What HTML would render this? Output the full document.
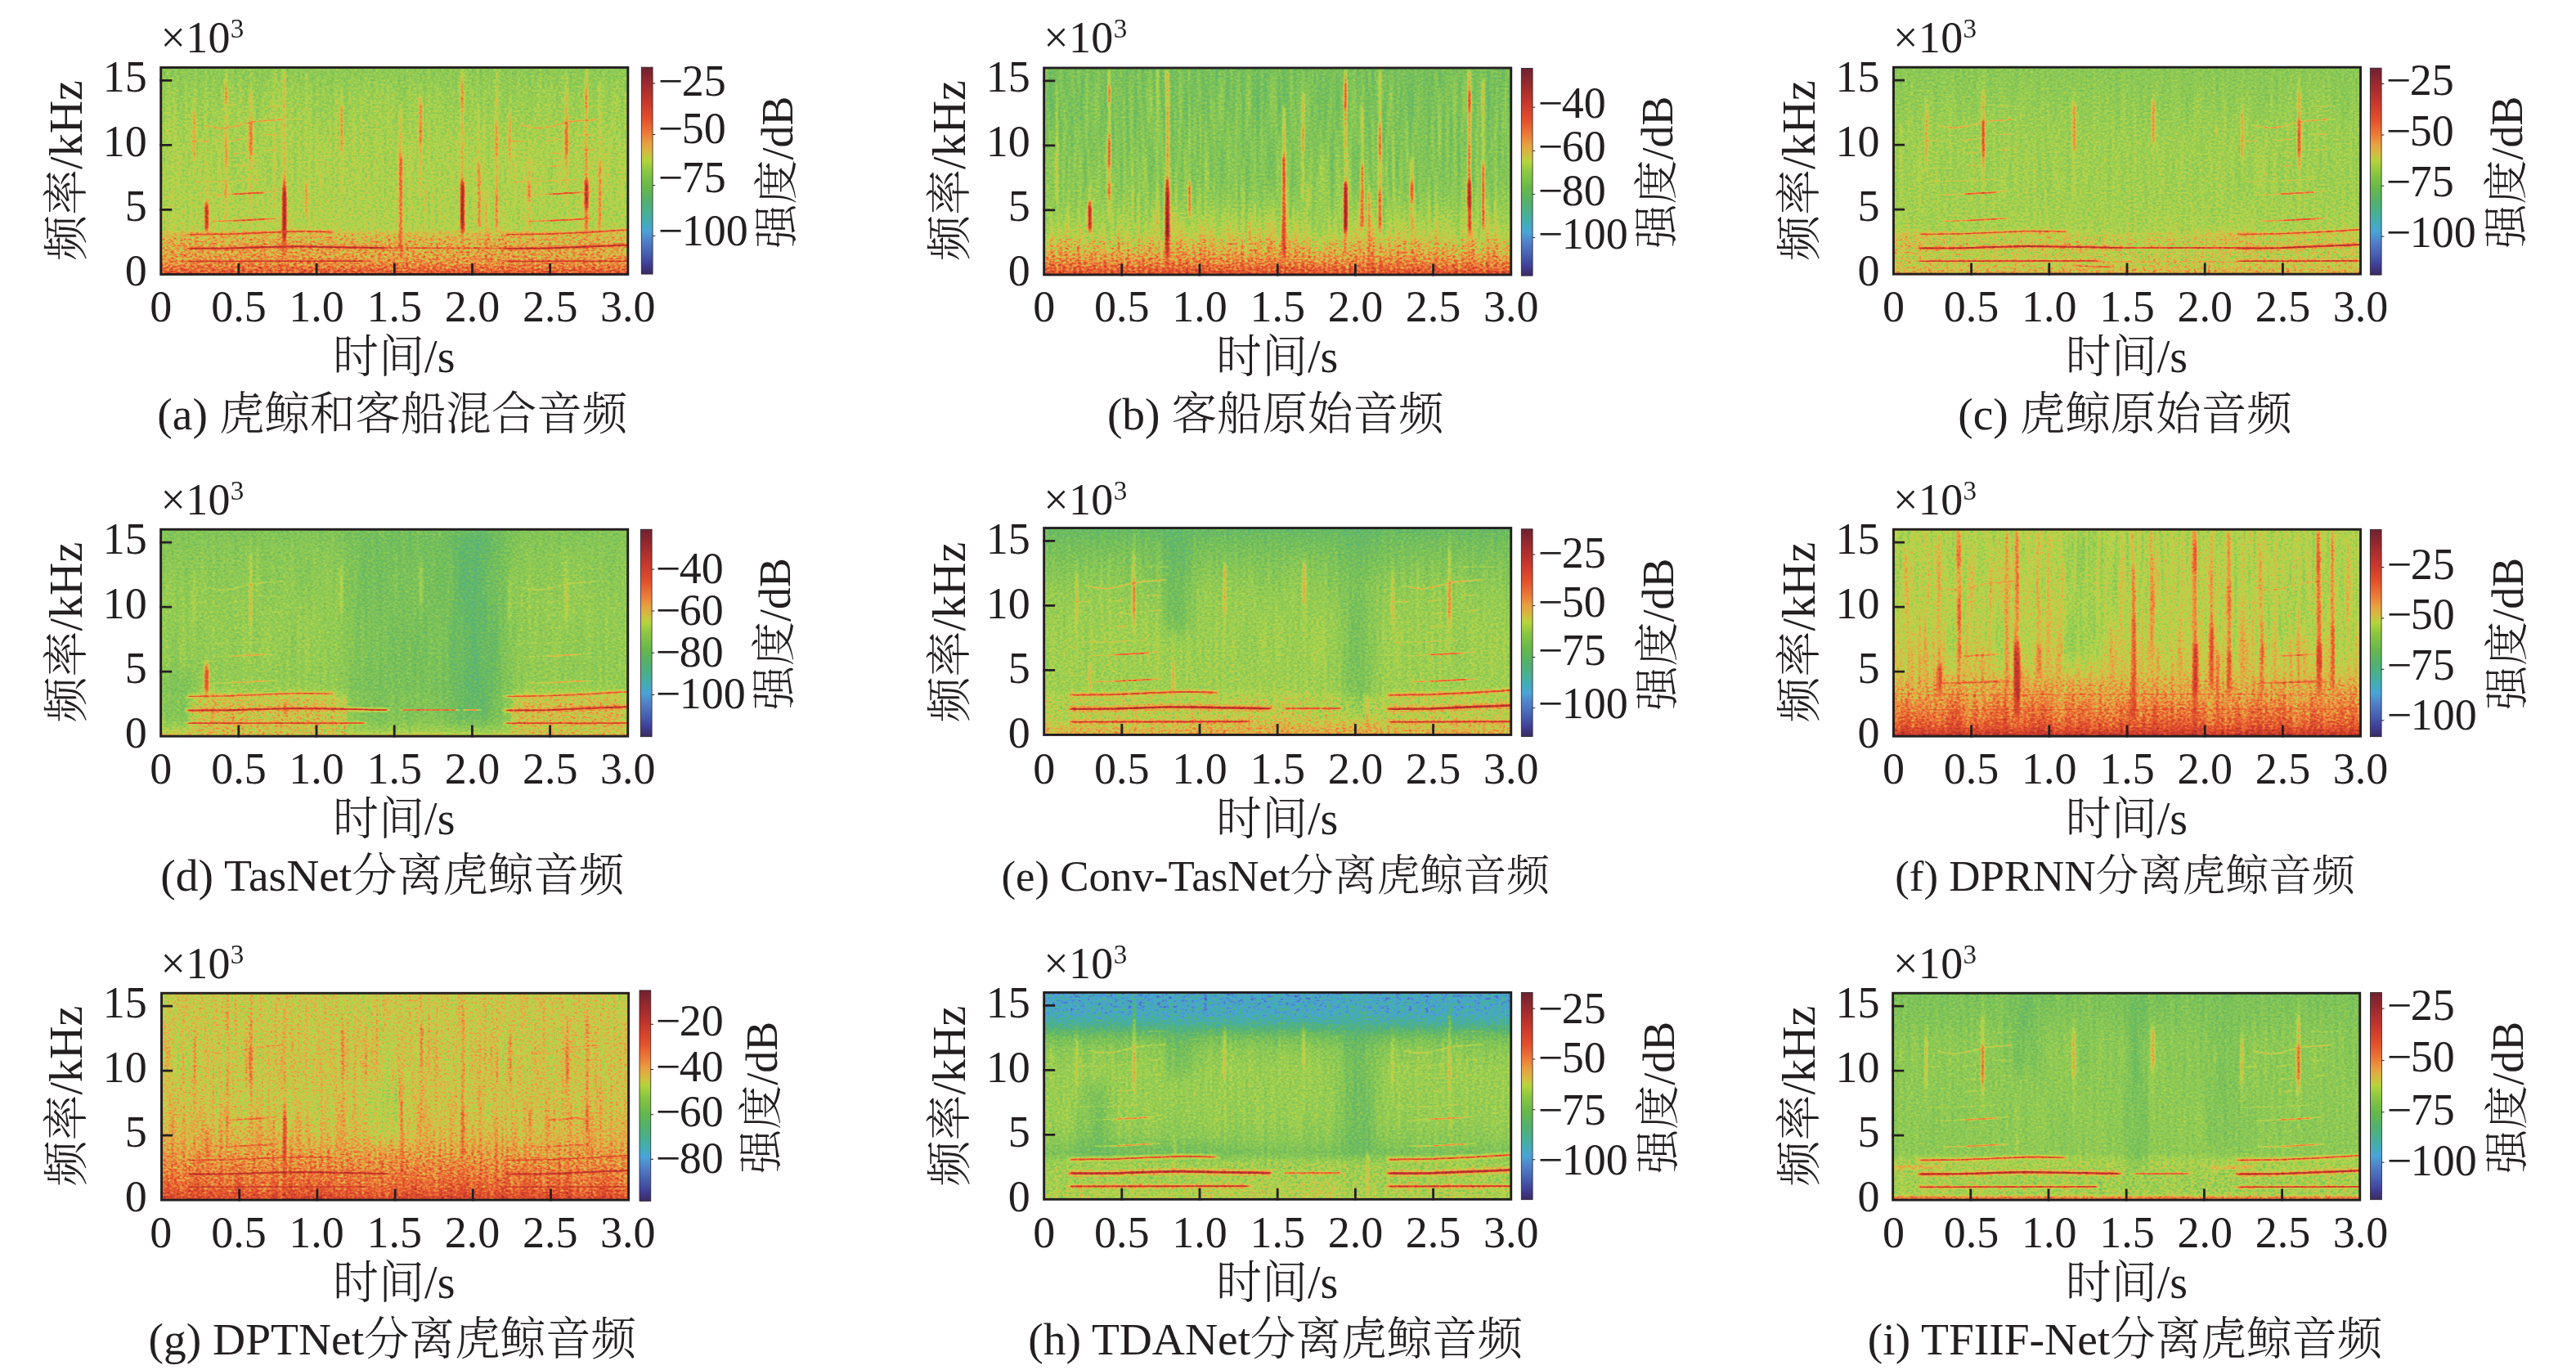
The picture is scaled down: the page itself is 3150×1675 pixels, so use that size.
<!DOCTYPE html>
<html><head><meta charset="utf-8"><title>spectrograms</title>
<style>html,body{margin:0;padding:0;background:#fff}svg{display:block}text{font-family:"Liberation Serif","Noto Serif CJK SC",serif;font-weight:300;fill:#231f20}</style></head><body>
<svg width="3150" height="1675" viewBox="0 0 3150 1675">
<defs>
<linearGradient id="cb" x1="0" y1="0" x2="0" y2="1">
<stop offset="0.000" stop-color="#6e2230"/>
<stop offset="0.080" stop-color="#9c2a2e"/>
<stop offset="0.170" stop-color="#c8382c"/>
<stop offset="0.250" stop-color="#e2502c"/>
<stop offset="0.320" stop-color="#ec7a38"/>
<stop offset="0.370" stop-color="#e8a040"/>
<stop offset="0.420" stop-color="#cfc040"/>
<stop offset="0.450" stop-color="#b5d43c"/>
<stop offset="0.500" stop-color="#8cc840"/>
<stop offset="0.580" stop-color="#66b84a"/>
<stop offset="0.650" stop-color="#52b070"/>
<stop offset="0.700" stop-color="#48b090"/>
<stop offset="0.750" stop-color="#44acb8"/>
<stop offset="0.790" stop-color="#4aa4d8"/>
<stop offset="0.840" stop-color="#5080c8"/>
<stop offset="0.900" stop-color="#4660b0"/>
<stop offset="0.950" stop-color="#40409a"/>
<stop offset="1.000" stop-color="#3a2a60"/>
</linearGradient>
<filter id="bl" x="-50%" y="-10%" width="200%" height="120%"><feGaussianBlur stdDeviation="1.2 3.5"/></filter>
<filter id="blh" x="-5%" y="-300%" width="110%" height="700%"><feGaussianBlur stdDeviation="2 0.6"/></filter>
<filter id="blb" x="-60%" y="-60%" width="220%" height="220%"><feGaussianBlur stdDeviation="10 9"/></filter>
</defs>
<filter id="fa" filterUnits="userSpaceOnUse" x="196.8" y="82.5" width="571.1" height="252.9" color-interpolation-filters="sRGB">
<feTurbulence type="fractalNoise" baseFrequency="0.30 0.40" numOctaves="2" seed="3" result="n"/>
<feColorMatrix in="n" type="matrix" values="1 0 0 0 0 1 0 0 0 0 1 0 0 0 0 0 0 0 0 1" result="g"/>
<feComposite in="SourceGraphic" in2="g" operator="arithmetic" k1="0" k2="1" k3="0.2" k4="-0.100" result="v1"/>
<feTurbulence type="fractalNoise" baseFrequency="0.22 0.012" numOctaves="1" seed="10" result="m"/>
<feColorMatrix in="m" type="matrix" values="1 0 0 0 0 1 0 0 0 0 1 0 0 0 0 0 0 0 0 1" result="mg"/>
<feComposite in="v1" in2="mg" operator="arithmetic" k1="0" k2="1" k3="0.08" k4="-0.040" result="v"/>
<feComponentTransfer in="v"><feFuncR type="table" tableValues="0.227 0.235 0.242 0.250 0.257 0.264 0.272 0.281 0.291 0.301 0.311 0.308 0.301 0.294 0.286 0.277 0.269 0.276 0.283 0.290 0.305 0.322 0.339 0.361 0.384 0.408 0.431 0.454 0.485 0.514 0.542 0.567 0.591 0.634 0.677 0.720 0.766 0.814 0.844 0.873 0.902 0.914 0.919 0.923 0.922 0.913 0.904 0.895 0.886 0.866 0.846 0.827 0.807 0.787 0.758 0.728 0.698 0.668 0.638 0.608 0.572 0.537 0.502 0.467 0.431"/><feFuncG type="table" tableValues="0.165 0.192 0.219 0.246 0.282 0.322 0.361 0.396 0.429 0.461 0.494 0.536 0.580 0.624 0.650 0.663 0.676 0.681 0.687 0.693 0.696 0.698 0.700 0.707 0.717 0.727 0.737 0.747 0.760 0.772 0.784 0.795 0.805 0.816 0.828 0.840 0.810 0.769 0.728 0.688 0.647 0.601 0.553 0.506 0.463 0.425 0.388 0.351 0.314 0.296 0.277 0.259 0.240 0.222 0.211 0.202 0.192 0.183 0.173 0.164 0.158 0.152 0.146 0.139 0.133"/><feFuncB type="table" tableValues="0.376 0.448 0.519 0.590 0.625 0.652 0.679 0.705 0.729 0.754 0.778 0.799 0.819 0.839 0.820 0.771 0.723 0.674 0.627 0.580 0.542 0.507 0.473 0.444 0.419 0.395 0.371 0.350 0.348 0.345 0.340 0.332 0.321 0.311 0.300 0.287 0.284 0.283 0.277 0.270 0.265 0.254 0.241 0.229 0.218 0.206 0.195 0.184 0.173 0.173 0.173 0.173 0.173 0.173 0.174 0.175 0.176 0.178 0.179 0.181 0.182 0.184 0.185 0.187 0.188"/></feComponentTransfer>
</filter>
<linearGradient id="ga" x1="0" y1="1" x2="0" y2="0">
<stop offset="0.0000" stop-color="#d1d1d1"/>
<stop offset="0.0250" stop-color="#bfbfbf"/>
<stop offset="0.0500" stop-color="#adadad"/>
<stop offset="0.1000" stop-color="#9f9f9f"/>
<stop offset="0.1625" stop-color="#999999"/>
<stop offset="0.2000" stop-color="#949494"/>
<stop offset="0.2188" stop-color="#8a8a8a"/>
<stop offset="0.3125" stop-color="#888888"/>
<stop offset="0.6250" stop-color="#868686"/>
<stop offset="0.8750" stop-color="#808080"/>
<stop offset="1.0000" stop-color="#797979"/>
</linearGradient>
<clipPath id="ca"><rect x="196.8" y="82.5" width="571.1" height="252.9"/></clipPath>
<g filter="url(#fa)"><g clip-path="url(#ca)">
<rect x="196.8" y="82.5" width="571.1" height="252.9" fill="url(#ga)"/>
<filter id="cna0" filterUnits="userSpaceOnUse" x="196.8" y="280.1" width="571.1" height="55.3" color-interpolation-filters="sRGB"><feTurbulence type="fractalNoise" baseFrequency="0.24 0.38" numOctaves="2" seed="34"/><feColorMatrix type="matrix" values="0.9 0 0 0 0.180 0.9 0 0 0 0.180 0.9 0 0 0 0.180 0 0 0 0 1"/></filter>
<linearGradient id="cma0" gradientUnits="userSpaceOnUse" x1="0" y1="280.1" x2="0" y2="335.4"><stop offset="0" stop-color="#000"/><stop offset="0.220" stop-color="#fff"/><stop offset="1" stop-color="#fff"/></linearGradient>
<mask id="cka0" maskUnits="userSpaceOnUse" x="196.8" y="280.1" width="571.1" height="55.3"><rect x="196.8" y="280.1" width="571.1" height="55.3" fill="url(#cma0)"/></mask>
<g mask="url(#cka0)" opacity="0.35"><rect x="196.8" y="280.1" width="571.1" height="55.3" fill="#888" filter="url(#cna0)"/></g>
<g filter="url(#bl)">
<rect x="211.2" y="104.7" width="2.7" height="142.3" fill="#9e9e9e" opacity="0.29"/>
<rect x="237.8" y="84.1" width="2.7" height="85.4" fill="#999999" opacity="0.25"/>
<rect x="250.8" y="224.8" width="3.2" height="56.9" fill="#a8a8a8" opacity="0.29"/>
<rect x="250.5" y="248.5" width="4.4" height="33.2" fill="#e6e6e6" opacity="0.85"/>
<rect x="274.8" y="84.1" width="3.4" height="188.1" fill="#a8a8a8" opacity="0.43"/>
<rect x="274.7" y="103.1" width="3.6" height="23.7" fill="#c2c2c2" opacity="0.50"/>
<rect x="274.7" y="166.3" width="3.6" height="37.9" fill="#c2c2c2" opacity="0.47"/>
<rect x="274.7" y="223.2" width="3.6" height="19.0" fill="#c2c2c2" opacity="0.50"/>
<rect x="303.9" y="228.0" width="2.7" height="53.7" fill="#a8a8a8" opacity="0.29"/>
<rect x="333.8" y="84.1" width="3.2" height="194.4" fill="#a8a8a8" opacity="0.32"/>
<rect x="345.6" y="84.1" width="3.8" height="246.6" fill="#b3b3b3" opacity="0.47"/>
<rect x="345.1" y="218.5" width="4.8" height="91.7" fill="#c9c9c9" opacity="0.61"/>
<rect x="345.5" y="231.1" width="4.8" height="58.5" fill="#ededed" opacity="0.85"/>
<rect x="353.2" y="256.4" width="3.2" height="31.6" fill="#a8a8a8" opacity="0.29"/>
<rect x="373.2" y="84.1" width="2.7" height="101.2" fill="#9e9e9e" opacity="0.25"/>
<rect x="372.8" y="223.2" width="3.6" height="39.5" fill="#bababa" opacity="0.54"/>
<rect x="385.9" y="137.9" width="2.5" height="110.6" fill="#9c9c9c" opacity="0.22"/>
<rect x="403.0" y="122.1" width="2.5" height="110.6" fill="#9c9c9c" opacity="0.22"/>
<rect x="430.5" y="130.0" width="2.3" height="110.6" fill="#999999" opacity="0.18"/>
<rect x="446.8" y="84.1" width="2.5" height="53.7" fill="#9c9c9c" opacity="0.22"/>
<rect x="446.7" y="269.1" width="2.7" height="25.3" fill="#a8a8a8" opacity="0.29"/>
<rect x="488.3" y="128.4" width="3.6" height="191.3" fill="#b0b0b0" opacity="0.43"/>
<rect x="488.0" y="190.0" width="4.2" height="120.1" fill="#c7c7c7" opacity="0.58"/>
<rect x="511.8" y="115.7" width="3.4" height="126.4" fill="#adadad" opacity="0.40"/>
<rect x="511.8" y="153.7" width="3.4" height="31.6" fill="#b8b8b8" opacity="0.36"/>
<rect x="519.0" y="224.8" width="2.7" height="31.6" fill="#a8a8a8" opacity="0.32"/>
<rect x="563.4" y="84.1" width="3.8" height="226.0" fill="#b3b3b3" opacity="0.47"/>
<rect x="563.4" y="99.9" width="3.8" height="33.2" fill="#c2c2c2" opacity="0.50"/>
<rect x="563.1" y="223.2" width="4.8" height="58.5" fill="#ededed" opacity="0.87"/>
<rect x="584.0" y="130.0" width="3.4" height="148.6" fill="#a8a8a8" opacity="0.36"/>
<rect x="583.7" y="199.5" width="4.0" height="77.5" fill="#c2c2c2" opacity="0.54"/>
<rect x="592.4" y="232.7" width="3.4" height="101.2" fill="#b5b5b5" opacity="0.43"/>
<rect x="605.7" y="84.1" width="3.4" height="197.6" fill="#a8a8a8" opacity="0.36"/>
<rect x="605.6" y="150.5" width="3.6" height="39.5" fill="#bababa" opacity="0.47"/>
<rect x="605.5" y="232.7" width="3.8" height="49.0" fill="#c2c2c2" opacity="0.50"/>
<rect x="622.9" y="161.6" width="2.5" height="94.8" fill="#9e9e9e" opacity="0.25"/>
<rect x="645.3" y="193.2" width="3.4" height="88.5" fill="#adadad" opacity="0.40"/>
<rect x="645.1" y="221.6" width="3.8" height="23.7" fill="#c2c2c2" opacity="0.54"/>
<rect x="678.3" y="106.3" width="2.5" height="86.9" fill="#9c9c9c" opacity="0.22"/>
<rect x="714.9" y="84.1" width="3.8" height="203.9" fill="#b3b3b3" opacity="0.47"/>
<rect x="714.9" y="111.0" width="3.8" height="23.7" fill="#c2c2c2" opacity="0.50"/>
<rect x="714.9" y="177.4" width="3.8" height="45.8" fill="#bdbdbd" opacity="0.43"/>
<rect x="714.6" y="221.6" width="4.8" height="31.6" fill="#ededed" opacity="0.87"/>
<rect x="714.9" y="253.3" width="4.2" height="26.9" fill="#c7c7c7" opacity="0.58"/>
<rect x="731.9" y="98.4" width="3.4" height="183.4" fill="#a8a8a8" opacity="0.36"/>
<rect x="731.7" y="199.5" width="3.8" height="79.0" fill="#bdbdbd" opacity="0.50"/>
<rect x="203.9" y="150.5" width="3.2" height="15.8" fill="#aaaaaa" opacity="0.27"/>
<rect x="235.4" y="120.5" width="3.4" height="96.4" fill="#aaaaaa" opacity="0.21"/>
<rect x="235.3" y="137.9" width="3.6" height="56.9" fill="#b4b4b4" opacity="0.45"/>
<rect x="265.4" y="123.6" width="2.7" height="61.6" fill="#9f9f9f" opacity="0.21"/>
<rect x="304.9" y="85.7" width="3.4" height="162.8" fill="#aaaaaa" opacity="0.24"/>
<rect x="304.7" y="111.0" width="3.8" height="94.8" fill="#b6b6b6" opacity="0.42"/>
<rect x="304.5" y="147.4" width="4.2" height="42.7" fill="#cccccc" opacity="0.54"/>
<rect x="590.0" y="150.5" width="3.2" height="15.8" fill="#aaaaaa" opacity="0.27"/>
<rect x="621.5" y="120.5" width="3.4" height="96.4" fill="#aaaaaa" opacity="0.21"/>
<rect x="621.4" y="137.9" width="3.6" height="56.9" fill="#b4b4b4" opacity="0.45"/>
<rect x="651.5" y="123.6" width="2.7" height="61.6" fill="#9f9f9f" opacity="0.21"/>
<rect x="691.0" y="85.7" width="3.4" height="162.8" fill="#aaaaaa" opacity="0.24"/>
<rect x="690.8" y="111.0" width="3.8" height="94.8" fill="#b6b6b6" opacity="0.42"/>
<rect x="690.6" y="147.4" width="4.2" height="42.7" fill="#cccccc" opacity="0.54"/>
<rect x="416.0" y="111.0" width="3.2" height="129.6" fill="#aaaaaa" opacity="0.21"/>
<rect x="415.7" y="128.4" width="3.8" height="56.9" fill="#bebebe" opacity="0.51"/>
<rect x="513.1" y="115.7" width="3.2" height="121.7" fill="#aaaaaa" opacity="0.21"/>
<rect x="512.9" y="125.2" width="3.6" height="49.0" fill="#bebebe" opacity="0.48"/>
</g>
<g filter="url(#blh)" fill="none" stroke-linecap="round" stroke-linejoin="round">
<polyline points="230.1,319.6 446.1,319.3" stroke="#ededed" stroke-width="1.5" opacity="0.95"/>
<polyline points="230.1,319.6 446.1,319.3" stroke="#adadad" stroke-width="5.0" opacity="0.35"/>
<polyline points="230.1,303.8 282.4,303.5 320.5,302.3 358.6,301.3 396.6,301.9 472.8,303.2" stroke="#fafafa" stroke-width="2.0" opacity="0.97"/>
<polyline points="230.1,303.8 282.4,303.5 320.5,302.3 358.6,301.3 396.6,301.9 472.8,303.2" stroke="#b5b5b5" stroke-width="6.5" opacity="0.40"/>
<polyline points="230.1,286.8 282.4,286.1 330.0,284.1 368.1,282.8 406.2,283.6" stroke="#dbdbdb" stroke-width="1.6" opacity="0.85"/>
<polyline points="230.1,286.8 282.4,286.1 330.0,284.1 368.1,282.8 406.2,283.6" stroke="#adadad" stroke-width="5.5" opacity="0.35"/>
<polyline points="259.6,270.6 291.9,269.7 314.8,268.3 337.6,267.2" stroke="#bdbdbd" stroke-width="1.8" opacity="0.60"/>
<polyline points="286.2,269.9 326.2,267.8" stroke="#cfcfcf" stroke-width="2.2" opacity="0.52"/>
<polyline points="253.9,238.7 284.3,237.5 322.4,235.4 339.5,233.5" stroke="#afafaf" stroke-width="1.6" opacity="0.45"/>
<polyline points="284.3,237.5 322.4,235.4" stroke="#d4d4d4" stroke-width="2.2" opacity="0.60"/>
<polyline points="238.6,222.4 282.4,221.6 322.4,219.3" stroke="#acacac" stroke-width="1.5" opacity="0.41"/>
<polyline points="286.2,203.0 299.5,202.4" stroke="#b2b2b2" stroke-width="1.8" opacity="0.49"/>
<polyline points="286.2,187.5 297.6,186.9" stroke="#b1b1b1" stroke-width="1.6" opacity="0.45"/>
<polyline points="326.2,183.7 339.5,183.4" stroke="#b1b1b1" stroke-width="1.6" opacity="0.45"/>
<polyline points="234.8,172.6 255.8,172.6" stroke="#b1b1b1" stroke-width="1.6" opacity="0.45"/>
<polyline points="280.5,172.6 297.6,169.8" stroke="#b2b2b2" stroke-width="1.6" opacity="0.49"/>
<polyline points="322.4,164.7 341.4,164.7" stroke="#b1b1b1" stroke-width="1.6" opacity="0.45"/>
<polyline points="252.0,153.4 261.5,155.6 272.9,156.8 286.2,154.9 301.5,150.8 316.7,148.0 333.8,147.0 345.2,145.8" stroke="#b8b8b8" stroke-width="1.8" opacity="0.60"/>
<polyline points="322.4,130.0 349.0,130.0" stroke="#a7a7a7" stroke-width="1.5" opacity="0.38"/>
<polyline points="619.0,319.6 769.4,319.3" stroke="#ededed" stroke-width="1.5" opacity="0.95"/>
<polyline points="619.0,319.6 769.4,319.3" stroke="#adadad" stroke-width="5.0" opacity="0.35"/>
<polyline points="619.0,303.8 668.5,303.5 706.6,301.9 744.6,300.4 769.4,299.4" stroke="#fafafa" stroke-width="2.0" opacity="0.97"/>
<polyline points="619.0,303.8 668.5,303.5 706.6,301.9 744.6,300.4 769.4,299.4" stroke="#b5b5b5" stroke-width="6.5" opacity="0.40"/>
<polyline points="619.0,286.8 668.5,286.1 716.1,284.1 769.4,280.9" stroke="#dbdbdb" stroke-width="1.6" opacity="0.85"/>
<polyline points="619.0,286.8 668.5,286.1 716.1,284.1 769.4,280.9" stroke="#adadad" stroke-width="5.5" opacity="0.35"/>
<polyline points="645.6,270.6 678.0,269.7 700.8,268.3 723.7,267.2" stroke="#bdbdbd" stroke-width="1.8" opacity="0.60"/>
<polyline points="672.3,269.9 712.3,267.8" stroke="#cfcfcf" stroke-width="2.2" opacity="0.52"/>
<polyline points="639.9,238.7 670.4,237.5 708.5,235.4 725.6,233.5" stroke="#afafaf" stroke-width="1.6" opacity="0.45"/>
<polyline points="670.4,237.5 708.5,235.4" stroke="#d4d4d4" stroke-width="2.2" opacity="0.60"/>
<polyline points="624.7,222.4 668.5,221.6 708.5,219.3" stroke="#acacac" stroke-width="1.5" opacity="0.41"/>
<polyline points="672.3,203.0 685.6,202.4" stroke="#b2b2b2" stroke-width="1.8" opacity="0.49"/>
<polyline points="672.3,187.5 683.7,186.9" stroke="#b1b1b1" stroke-width="1.6" opacity="0.45"/>
<polyline points="712.3,183.7 725.6,183.4" stroke="#b1b1b1" stroke-width="1.6" opacity="0.45"/>
<polyline points="620.9,172.6 641.8,172.6" stroke="#b1b1b1" stroke-width="1.6" opacity="0.45"/>
<polyline points="666.6,172.6 683.7,169.8" stroke="#b2b2b2" stroke-width="1.6" opacity="0.49"/>
<polyline points="708.5,164.7 727.5,164.7" stroke="#b1b1b1" stroke-width="1.6" opacity="0.45"/>
<polyline points="638.0,153.4 647.5,155.6 659.0,156.8 672.3,154.9 687.5,150.8 702.7,148.0 719.9,147.0 731.3,145.8" stroke="#b8b8b8" stroke-width="1.8" opacity="0.60"/>
<polyline points="708.5,130.0 735.1,130.0" stroke="#a7a7a7" stroke-width="1.5" opacity="0.38"/>
<polyline points="472.8,303.2 619.4,303.5" stroke="#cccccc" stroke-width="1.8" opacity="0.60"/>
</g>
</g></g>
<rect x="196.75" y="82.55" width="571.10" height="252.90" fill="none" stroke="#231f20" stroke-width="2.9"/>
<path d="M291.9 336.9V321.9M387.1 336.9V321.9M482.3 336.9V321.9M577.5 336.9V321.9M672.7 336.9V321.9M195.3 256.4H210.3M195.3 177.4H210.3M195.3 98.4H210.3" stroke="#231f20" stroke-width="2.8" fill="none"/>
<text x="179.8" y="349.1" font-size="54" text-anchor="end">0</text>
<text x="179.8" y="270.0" font-size="54" text-anchor="end">5</text>
<text x="179.8" y="191.0" font-size="54" text-anchor="end">10</text>
<text x="179.8" y="112.0" font-size="54" text-anchor="end">15</text>
<text x="196.8" y="393.2" font-size="54" text-anchor="middle">0</text>
<text x="291.9" y="393.2" font-size="54" text-anchor="middle">0.5</text>
<text x="387.1" y="393.2" font-size="54" text-anchor="middle">1.0</text>
<text x="482.3" y="393.2" font-size="54" text-anchor="middle">1.5</text>
<text x="577.5" y="393.2" font-size="54" text-anchor="middle">2.0</text>
<text x="672.7" y="393.2" font-size="54" text-anchor="middle">2.5</text>
<text x="767.8" y="393.2" font-size="54" text-anchor="middle">3.0</text>
<text x="196.4" y="64.1" font-size="54" letter-spacing="0.3">×10<tspan font-size="33" dy="-17.7">3</tspan></text>
<text transform="translate(100.1 208.5) rotate(-90)" font-size="56" text-anchor="middle">频率/kHz</text>
<text x="481.8" y="454.9" font-size="56" text-anchor="middle">时间/s</text>
<text x="479.8" y="524.7" font-size="55.5" text-anchor="middle">(a) 虎鲸和客船混合音频</text>
<rect x="784.3" y="82.2" width="13.8" height="252.9" fill="url(#cb)" stroke="#2a2226" stroke-width="0.8"/>
<path d="M798.1 101.9h3.2M798.1 164.6h3.2M798.1 226.7h3.2M798.1 288.4h3.2" stroke="#231f20" stroke-width="1" fill="none"/>
<text x="804.8" y="116.8" font-size="54">−<tspan dx="-1.6">25</tspan></text>
<text x="804.8" y="175.1" font-size="54">−<tspan dx="-1.6">50</tspan></text>
<text x="804.8" y="234.8" font-size="54">−<tspan dx="-1.6">75</tspan></text>
<text x="804.8" y="300.4" font-size="54">−<tspan dx="-1.6">100</tspan></text>
<text transform="translate(969.2 210.5) rotate(-90)" font-size="54" text-anchor="middle">强度/dB</text>
<filter id="fb" filterUnits="userSpaceOnUse" x="1276.7" y="83.0" width="571.1" height="252.9" color-interpolation-filters="sRGB">
<feTurbulence type="fractalNoise" baseFrequency="0.30 0.40" numOctaves="2" seed="11" result="n"/>
<feColorMatrix in="n" type="matrix" values="1 0 0 0 0 1 0 0 0 0 1 0 0 0 0 0 0 0 0 1" result="g"/>
<feComposite in="SourceGraphic" in2="g" operator="arithmetic" k1="0" k2="1" k3="0.2" k4="-0.100" result="v1"/>
<feTurbulence type="fractalNoise" baseFrequency="0.22 0.012" numOctaves="1" seed="18" result="m"/>
<feColorMatrix in="m" type="matrix" values="1 0 0 0 0 1 0 0 0 0 1 0 0 0 0 0 0 0 0 1" result="mg"/>
<feComposite in="v1" in2="mg" operator="arithmetic" k1="0" k2="1" k3="0.18" k4="-0.090" result="v"/>
<feComponentTransfer in="v"><feFuncR type="table" tableValues="0.227 0.235 0.242 0.250 0.257 0.264 0.272 0.281 0.291 0.301 0.311 0.308 0.301 0.294 0.286 0.277 0.269 0.276 0.283 0.290 0.305 0.322 0.339 0.361 0.384 0.408 0.431 0.454 0.485 0.514 0.542 0.567 0.591 0.634 0.677 0.720 0.766 0.814 0.844 0.873 0.902 0.914 0.919 0.923 0.922 0.913 0.904 0.895 0.886 0.866 0.846 0.827 0.807 0.787 0.758 0.728 0.698 0.668 0.638 0.608 0.572 0.537 0.502 0.467 0.431"/><feFuncG type="table" tableValues="0.165 0.192 0.219 0.246 0.282 0.322 0.361 0.396 0.429 0.461 0.494 0.536 0.580 0.624 0.650 0.663 0.676 0.681 0.687 0.693 0.696 0.698 0.700 0.707 0.717 0.727 0.737 0.747 0.760 0.772 0.784 0.795 0.805 0.816 0.828 0.840 0.810 0.769 0.728 0.688 0.647 0.601 0.553 0.506 0.463 0.425 0.388 0.351 0.314 0.296 0.277 0.259 0.240 0.222 0.211 0.202 0.192 0.183 0.173 0.164 0.158 0.152 0.146 0.139 0.133"/><feFuncB type="table" tableValues="0.376 0.448 0.519 0.590 0.625 0.652 0.679 0.705 0.729 0.754 0.778 0.799 0.819 0.839 0.820 0.771 0.723 0.674 0.627 0.580 0.542 0.507 0.473 0.444 0.419 0.395 0.371 0.350 0.348 0.345 0.340 0.332 0.321 0.311 0.300 0.287 0.284 0.283 0.277 0.270 0.265 0.254 0.241 0.229 0.218 0.206 0.195 0.184 0.173 0.173 0.173 0.173 0.173 0.173 0.174 0.175 0.176 0.178 0.179 0.181 0.182 0.184 0.185 0.187 0.188"/></feComponentTransfer>
</filter>
<linearGradient id="gb" x1="0" y1="1" x2="0" y2="0">
<stop offset="0.0000" stop-color="#d6d6d6"/>
<stop offset="0.0250" stop-color="#c7c7c7"/>
<stop offset="0.0625" stop-color="#b0b0b0"/>
<stop offset="0.1125" stop-color="#9c9c9c"/>
<stop offset="0.1625" stop-color="#8f8f8f"/>
<stop offset="0.2500" stop-color="#868686"/>
<stop offset="0.3438" stop-color="#7d7d7d"/>
<stop offset="0.4375" stop-color="#787878"/>
<stop offset="0.6250" stop-color="#747474"/>
<stop offset="0.8750" stop-color="#717171"/>
<stop offset="1.0000" stop-color="#6e6e6e"/>
</linearGradient>
<clipPath id="cb"><rect x="1276.7" y="83.0" width="571.1" height="252.9"/></clipPath>
<g filter="url(#fb)"><g clip-path="url(#cb)">
<rect x="1276.7" y="83.0" width="571.1" height="252.9" fill="url(#gb)"/>
<filter id="cnb0" filterUnits="userSpaceOnUse" x="1276.7" y="285.4" width="571.1" height="50.6" color-interpolation-filters="sRGB"><feTurbulence type="fractalNoise" baseFrequency="0.24 0.38" numOctaves="2" seed="42"/><feColorMatrix type="matrix" values="0.9 0 0 0 0.170 0.9 0 0 0 0.170 0.9 0 0 0 0.170 0 0 0 0 1"/></filter>
<linearGradient id="cmb0" gradientUnits="userSpaceOnUse" x1="0" y1="285.4" x2="0" y2="335.9"><stop offset="0" stop-color="#000"/><stop offset="0.220" stop-color="#fff"/><stop offset="1" stop-color="#fff"/></linearGradient>
<mask id="ckb0" maskUnits="userSpaceOnUse" x="1276.7" y="285.4" width="571.1" height="50.6"><rect x="1276.7" y="285.4" width="571.1" height="50.6" fill="url(#cmb0)"/></mask>
<g mask="url(#ckb0)" opacity="0.35"><rect x="1276.7" y="285.4" width="571.1" height="50.6" fill="#888" filter="url(#cnb0)"/></g>
<g filter="url(#bl)">
<rect x="1291.1" y="105.2" width="2.7" height="142.3" fill="#a3a3a3" opacity="0.40"/>
<rect x="1317.7" y="84.6" width="2.7" height="85.4" fill="#9e9e9e" opacity="0.35"/>
<rect x="1330.7" y="225.3" width="3.2" height="56.9" fill="#adadad" opacity="0.40"/>
<rect x="1330.4" y="249.0" width="4.4" height="33.2" fill="#e6e6e6" opacity="0.95"/>
<rect x="1354.7" y="84.6" width="3.4" height="188.1" fill="#adadad" opacity="0.60"/>
<rect x="1354.6" y="103.6" width="3.6" height="23.7" fill="#cccccc" opacity="0.70"/>
<rect x="1354.6" y="166.8" width="3.6" height="37.9" fill="#cccccc" opacity="0.65"/>
<rect x="1354.6" y="223.7" width="3.6" height="19.0" fill="#cccccc" opacity="0.70"/>
<rect x="1383.8" y="228.5" width="2.7" height="53.7" fill="#adadad" opacity="0.40"/>
<rect x="1413.7" y="84.6" width="3.2" height="194.4" fill="#adadad" opacity="0.45"/>
<rect x="1425.5" y="84.6" width="3.8" height="246.6" fill="#b8b8b8" opacity="0.65"/>
<rect x="1425.0" y="219.0" width="4.8" height="91.7" fill="#d4d4d4" opacity="0.85"/>
<rect x="1425.4" y="231.6" width="4.8" height="58.5" fill="#ededed" opacity="0.95"/>
<rect x="1433.1" y="256.9" width="3.2" height="31.6" fill="#adadad" opacity="0.40"/>
<rect x="1453.1" y="84.6" width="2.7" height="101.2" fill="#a3a3a3" opacity="0.35"/>
<rect x="1452.7" y="223.7" width="3.6" height="39.5" fill="#c4c4c4" opacity="0.75"/>
<rect x="1465.8" y="138.4" width="2.5" height="110.6" fill="#a1a1a1" opacity="0.30"/>
<rect x="1482.9" y="122.6" width="2.5" height="110.6" fill="#a1a1a1" opacity="0.30"/>
<rect x="1510.4" y="130.5" width="2.3" height="110.6" fill="#9e9e9e" opacity="0.25"/>
<rect x="1526.7" y="84.6" width="2.5" height="53.7" fill="#a1a1a1" opacity="0.30"/>
<rect x="1526.6" y="269.6" width="2.7" height="25.3" fill="#adadad" opacity="0.40"/>
<rect x="1568.2" y="128.9" width="3.6" height="191.3" fill="#b5b5b5" opacity="0.60"/>
<rect x="1567.9" y="190.5" width="4.2" height="120.1" fill="#d1d1d1" opacity="0.80"/>
<rect x="1591.7" y="116.2" width="3.4" height="126.4" fill="#b3b3b3" opacity="0.55"/>
<rect x="1591.7" y="154.2" width="3.4" height="31.6" fill="#c2c2c2" opacity="0.50"/>
<rect x="1598.9" y="225.3" width="2.7" height="31.6" fill="#adadad" opacity="0.45"/>
<rect x="1643.3" y="84.6" width="3.8" height="226.0" fill="#b8b8b8" opacity="0.65"/>
<rect x="1643.3" y="100.4" width="3.8" height="33.2" fill="#cccccc" opacity="0.70"/>
<rect x="1643.0" y="223.7" width="4.8" height="58.5" fill="#ededed" opacity="0.97"/>
<rect x="1663.9" y="130.5" width="3.4" height="148.6" fill="#adadad" opacity="0.50"/>
<rect x="1663.6" y="200.0" width="4.0" height="77.5" fill="#cccccc" opacity="0.75"/>
<rect x="1672.3" y="233.2" width="3.4" height="101.2" fill="#bfbfbf" opacity="0.60"/>
<rect x="1685.6" y="84.6" width="3.4" height="197.6" fill="#adadad" opacity="0.50"/>
<rect x="1685.5" y="151.0" width="3.6" height="39.5" fill="#c4c4c4" opacity="0.65"/>
<rect x="1685.4" y="233.2" width="3.8" height="49.0" fill="#cccccc" opacity="0.70"/>
<rect x="1702.8" y="162.1" width="2.5" height="94.8" fill="#a3a3a3" opacity="0.35"/>
<rect x="1725.2" y="193.7" width="3.4" height="88.5" fill="#b3b3b3" opacity="0.55"/>
<rect x="1725.0" y="222.1" width="3.8" height="23.7" fill="#cccccc" opacity="0.75"/>
<rect x="1758.2" y="106.8" width="2.5" height="86.9" fill="#a1a1a1" opacity="0.30"/>
<rect x="1794.8" y="84.6" width="3.8" height="203.9" fill="#b8b8b8" opacity="0.65"/>
<rect x="1794.8" y="111.5" width="3.8" height="23.7" fill="#cccccc" opacity="0.70"/>
<rect x="1794.8" y="177.9" width="3.8" height="45.8" fill="#c7c7c7" opacity="0.60"/>
<rect x="1794.5" y="222.1" width="4.8" height="31.6" fill="#ededed" opacity="0.97"/>
<rect x="1794.8" y="253.8" width="4.2" height="26.9" fill="#d1d1d1" opacity="0.80"/>
<rect x="1811.8" y="98.9" width="3.4" height="183.4" fill="#adadad" opacity="0.50"/>
<rect x="1811.6" y="200.0" width="3.8" height="79.0" fill="#c7c7c7" opacity="0.70"/>
</g>
<g filter="url(#blh)" fill="none" stroke-linecap="round" stroke-linejoin="round">
<polyline points="1286.2,204.8 1714.5,204.8" stroke="#919191" stroke-width="6" opacity="0.50"/>
</g>
</g></g>
<rect x="1276.65" y="83.05" width="571.10" height="252.90" fill="none" stroke="#231f20" stroke-width="2.9"/>
<path d="M1371.8 337.4V322.4M1467.0 337.4V322.4M1562.2 337.4V322.4M1657.4 337.4V322.4M1752.6 337.4V322.4M1275.2 256.9H1290.2M1275.2 177.9H1290.2M1275.2 98.9H1290.2" stroke="#231f20" stroke-width="2.8" fill="none"/>
<text x="1259.7" y="349.1" font-size="54" text-anchor="end">0</text>
<text x="1259.7" y="270.0" font-size="54" text-anchor="end">5</text>
<text x="1259.7" y="191.0" font-size="54" text-anchor="end">10</text>
<text x="1259.7" y="112.0" font-size="54" text-anchor="end">15</text>
<text x="1276.7" y="393.2" font-size="54" text-anchor="middle">0</text>
<text x="1371.8" y="393.2" font-size="54" text-anchor="middle">0.5</text>
<text x="1467.0" y="393.2" font-size="54" text-anchor="middle">1.0</text>
<text x="1562.2" y="393.2" font-size="54" text-anchor="middle">1.5</text>
<text x="1657.4" y="393.2" font-size="54" text-anchor="middle">2.0</text>
<text x="1752.6" y="393.2" font-size="54" text-anchor="middle">2.5</text>
<text x="1847.8" y="393.2" font-size="54" text-anchor="middle">3.0</text>
<text x="1276.3" y="64.1" font-size="54" letter-spacing="0.3">×10<tspan font-size="33" dy="-17.7">3</tspan></text>
<text transform="translate(1180.0 208.5) rotate(-90)" font-size="56" text-anchor="middle">频率/kHz</text>
<text x="1561.7" y="454.9" font-size="56" text-anchor="middle">时间/s</text>
<text x="1559.7" y="524.7" font-size="55.5" text-anchor="middle">(b) 客船原始音频</text>
<rect x="1860.3" y="83.4" width="13.8" height="253.7" fill="url(#cb)" stroke="#2a2226" stroke-width="0.8"/>
<path d="M1874.1 131.1h3.2M1874.1 184.3h3.2M1874.1 237.6h3.2M1874.1 290.4h3.2" stroke="#231f20" stroke-width="1" fill="none"/>
<text x="1880.8" y="144.0" font-size="54">−<tspan dx="-1.6">40</tspan></text>
<text x="1880.8" y="196.8" font-size="54">−<tspan dx="-1.6">60</tspan></text>
<text x="1880.8" y="251.0" font-size="54">−<tspan dx="-1.6">80</tspan></text>
<text x="1880.8" y="304.2" font-size="54">−<tspan dx="-1.6">100</tspan></text>
<text transform="translate(2045.0 210.6) rotate(-90)" font-size="54" text-anchor="middle">强度/dB</text>
<filter id="fc" filterUnits="userSpaceOnUse" x="2315.4" y="82.2" width="571.1" height="252.9" color-interpolation-filters="sRGB">
<feTurbulence type="fractalNoise" baseFrequency="0.30 0.40" numOctaves="2" seed="5" result="n"/>
<feColorMatrix in="n" type="matrix" values="1 0 0 0 0 1 0 0 0 0 1 0 0 0 0 0 0 0 0 1" result="g"/>
<feComposite in="SourceGraphic" in2="g" operator="arithmetic" k1="0" k2="1" k3="0.2" k4="-0.100" result="v1"/>
<feTurbulence type="fractalNoise" baseFrequency="0.22 0.012" numOctaves="1" seed="12" result="m"/>
<feColorMatrix in="m" type="matrix" values="1 0 0 0 0 1 0 0 0 0 1 0 0 0 0 0 0 0 0 1" result="mg"/>
<feComposite in="v1" in2="mg" operator="arithmetic" k1="0" k2="1" k3="0.08" k4="-0.040" result="v"/>
<feComponentTransfer in="v"><feFuncR type="table" tableValues="0.227 0.235 0.242 0.250 0.257 0.264 0.272 0.281 0.291 0.301 0.311 0.308 0.301 0.294 0.286 0.277 0.269 0.276 0.283 0.290 0.305 0.322 0.339 0.361 0.384 0.408 0.431 0.454 0.485 0.514 0.542 0.567 0.591 0.634 0.677 0.720 0.766 0.814 0.844 0.873 0.902 0.914 0.919 0.923 0.922 0.913 0.904 0.895 0.886 0.866 0.846 0.827 0.807 0.787 0.758 0.728 0.698 0.668 0.638 0.608 0.572 0.537 0.502 0.467 0.431"/><feFuncG type="table" tableValues="0.165 0.192 0.219 0.246 0.282 0.322 0.361 0.396 0.429 0.461 0.494 0.536 0.580 0.624 0.650 0.663 0.676 0.681 0.687 0.693 0.696 0.698 0.700 0.707 0.717 0.727 0.737 0.747 0.760 0.772 0.784 0.795 0.805 0.816 0.828 0.840 0.810 0.769 0.728 0.688 0.647 0.601 0.553 0.506 0.463 0.425 0.388 0.351 0.314 0.296 0.277 0.259 0.240 0.222 0.211 0.202 0.192 0.183 0.173 0.164 0.158 0.152 0.146 0.139 0.133"/><feFuncB type="table" tableValues="0.376 0.448 0.519 0.590 0.625 0.652 0.679 0.705 0.729 0.754 0.778 0.799 0.819 0.839 0.820 0.771 0.723 0.674 0.627 0.580 0.542 0.507 0.473 0.444 0.419 0.395 0.371 0.350 0.348 0.345 0.340 0.332 0.321 0.311 0.300 0.287 0.284 0.283 0.277 0.270 0.265 0.254 0.241 0.229 0.218 0.206 0.195 0.184 0.173 0.173 0.173 0.173 0.173 0.173 0.174 0.175 0.176 0.178 0.179 0.181 0.182 0.184 0.185 0.187 0.188"/></feComponentTransfer>
</filter>
<linearGradient id="gc" x1="0" y1="1" x2="0" y2="0">
<stop offset="0.0000" stop-color="#ababab"/>
<stop offset="0.0187" stop-color="#9c9c9c"/>
<stop offset="0.0500" stop-color="#909090"/>
<stop offset="0.1000" stop-color="#8c8c8c"/>
<stop offset="0.1500" stop-color="#8e8e8e"/>
<stop offset="0.1938" stop-color="#8e8e8e"/>
<stop offset="0.2156" stop-color="#868686"/>
<stop offset="0.3750" stop-color="#838383"/>
<stop offset="0.6250" stop-color="#828282"/>
<stop offset="0.8125" stop-color="#7d7d7d"/>
<stop offset="1.0000" stop-color="#787878"/>
</linearGradient>
<clipPath id="cc"><rect x="2315.4" y="82.2" width="571.1" height="252.9"/></clipPath>
<g filter="url(#fc)"><g clip-path="url(#cc)">
<rect x="2315.4" y="82.2" width="571.1" height="252.9" fill="url(#gc)"/>
<rect x="2315.4" y="287.7" width="47.6" height="23.7" fill="#a8a8a8" opacity="0.5" filter="url(#blb)"/>
<rect x="2696.2" y="287.7" width="47.6" height="15.8" fill="#adadad" opacity="0.5" filter="url(#blb)"/>
<filter id="cnc0" filterUnits="userSpaceOnUse" x="2315.4" y="281.4" width="571.1" height="53.7" color-interpolation-filters="sRGB"><feTurbulence type="fractalNoise" baseFrequency="0.24 0.38" numOctaves="2" seed="36"/><feColorMatrix type="matrix" values="0.8 0 0 0 0.160 0.8 0 0 0 0.160 0.8 0 0 0 0.160 0 0 0 0 1"/></filter>
<linearGradient id="cmc0" gradientUnits="userSpaceOnUse" x1="0" y1="281.4" x2="0" y2="335.1"><stop offset="0" stop-color="#000"/><stop offset="0.220" stop-color="#fff"/><stop offset="1" stop-color="#fff"/></linearGradient>
<mask id="ckc0" maskUnits="userSpaceOnUse" x="2315.4" y="281.4" width="571.1" height="53.7"><rect x="2315.4" y="281.4" width="571.1" height="53.7" fill="url(#cmc0)"/></mask>
<g mask="url(#ckc0)" opacity="0.32"><rect x="2315.4" y="281.4" width="571.1" height="53.7" fill="#888" filter="url(#cnc0)"/></g>
<g filter="url(#bl)">
<rect x="2322.6" y="150.2" width="3.2" height="15.8" fill="#aaaaaa" opacity="0.32"/>
<rect x="2354.1" y="120.2" width="3.4" height="96.4" fill="#aaaaaa" opacity="0.25"/>
<rect x="2354.0" y="137.6" width="3.6" height="56.9" fill="#b4b4b4" opacity="0.54"/>
<rect x="2384.1" y="123.3" width="2.7" height="61.6" fill="#9f9f9f" opacity="0.25"/>
<rect x="2423.6" y="85.4" width="3.4" height="162.8" fill="#aaaaaa" opacity="0.29"/>
<rect x="2423.4" y="110.7" width="3.8" height="94.8" fill="#b6b6b6" opacity="0.50"/>
<rect x="2423.2" y="147.1" width="4.2" height="42.7" fill="#cccccc" opacity="0.65"/>
<rect x="2708.7" y="150.2" width="3.2" height="15.8" fill="#aaaaaa" opacity="0.32"/>
<rect x="2740.2" y="120.2" width="3.4" height="96.4" fill="#aaaaaa" opacity="0.25"/>
<rect x="2740.1" y="137.6" width="3.6" height="56.9" fill="#b4b4b4" opacity="0.54"/>
<rect x="2770.2" y="123.3" width="2.7" height="61.6" fill="#9f9f9f" opacity="0.25"/>
<rect x="2809.7" y="85.4" width="3.4" height="162.8" fill="#aaaaaa" opacity="0.29"/>
<rect x="2809.5" y="110.7" width="3.8" height="94.8" fill="#b6b6b6" opacity="0.50"/>
<rect x="2809.3" y="147.1" width="4.2" height="42.7" fill="#cccccc" opacity="0.65"/>
<rect x="2534.7" y="110.7" width="3.2" height="129.6" fill="#aaaaaa" opacity="0.25"/>
<rect x="2534.4" y="128.1" width="3.8" height="56.9" fill="#bebebe" opacity="0.61"/>
<rect x="2631.8" y="115.4" width="3.2" height="121.7" fill="#aaaaaa" opacity="0.25"/>
<rect x="2631.6" y="124.9" width="3.6" height="49.0" fill="#bebebe" opacity="0.58"/>
</g>
<g filter="url(#blh)" fill="none" stroke-linecap="round" stroke-linejoin="round">
<polyline points="2348.8,319.3 2564.8,319.0" stroke="#ededed" stroke-width="1.5" opacity="0.95"/>
<polyline points="2348.8,319.3 2564.8,319.0" stroke="#adadad" stroke-width="5.0" opacity="0.35"/>
<polyline points="2348.8,303.5 2401.1,303.2 2439.2,302.0 2477.3,301.0 2515.3,301.6 2591.5,302.9" stroke="#fafafa" stroke-width="2.0" opacity="0.97"/>
<polyline points="2348.8,303.5 2401.1,303.2 2439.2,302.0 2477.3,301.0 2515.3,301.6 2591.5,302.9" stroke="#b5b5b5" stroke-width="6.5" opacity="0.40"/>
<polyline points="2348.8,286.5 2401.1,285.8 2448.7,283.8 2486.8,282.5 2524.9,283.3" stroke="#dbdbdb" stroke-width="1.6" opacity="0.85"/>
<polyline points="2348.8,286.5 2401.1,285.8 2448.7,283.8 2486.8,282.5 2524.9,283.3" stroke="#adadad" stroke-width="5.5" opacity="0.35"/>
<polyline points="2378.3,270.3 2410.6,269.4 2433.5,268.0 2456.3,266.9" stroke="#bdbdbd" stroke-width="1.8" opacity="0.56"/>
<polyline points="2404.9,269.6 2444.9,267.5" stroke="#cfcfcf" stroke-width="2.2" opacity="0.49"/>
<polyline points="2372.6,238.4 2403.0,237.2 2441.1,235.1 2458.2,233.2" stroke="#afafaf" stroke-width="1.6" opacity="0.42"/>
<polyline points="2403.0,237.2 2441.1,235.1" stroke="#d4d4d4" stroke-width="2.2" opacity="0.56"/>
<polyline points="2357.3,222.1 2401.1,221.3 2441.1,219.0" stroke="#acacac" stroke-width="1.5" opacity="0.39"/>
<polyline points="2404.9,202.7 2418.2,202.1" stroke="#b2b2b2" stroke-width="1.8" opacity="0.45"/>
<polyline points="2404.9,187.2 2416.3,186.6" stroke="#b1b1b1" stroke-width="1.6" opacity="0.42"/>
<polyline points="2444.9,183.4 2458.2,183.1" stroke="#b1b1b1" stroke-width="1.6" opacity="0.42"/>
<polyline points="2353.5,172.3 2374.5,172.3" stroke="#b1b1b1" stroke-width="1.6" opacity="0.42"/>
<polyline points="2399.2,172.3 2416.3,169.5" stroke="#b2b2b2" stroke-width="1.6" opacity="0.45"/>
<polyline points="2441.1,164.4 2460.1,164.4" stroke="#b1b1b1" stroke-width="1.6" opacity="0.42"/>
<polyline points="2370.7,153.1 2380.2,155.3 2391.6,156.5 2404.9,154.6 2420.2,150.5 2435.4,147.7 2452.5,146.7 2463.9,145.5" stroke="#b8b8b8" stroke-width="1.8" opacity="0.56"/>
<polyline points="2441.1,129.7 2467.7,129.7" stroke="#a7a7a7" stroke-width="1.5" opacity="0.35"/>
<polyline points="2737.7,319.3 2888.1,319.0" stroke="#ededed" stroke-width="1.5" opacity="0.95"/>
<polyline points="2737.7,319.3 2888.1,319.0" stroke="#adadad" stroke-width="5.0" opacity="0.35"/>
<polyline points="2737.7,303.5 2787.2,303.2 2825.3,301.6 2863.3,300.1 2888.1,299.1" stroke="#fafafa" stroke-width="2.0" opacity="0.97"/>
<polyline points="2737.7,303.5 2787.2,303.2 2825.3,301.6 2863.3,300.1 2888.1,299.1" stroke="#b5b5b5" stroke-width="6.5" opacity="0.40"/>
<polyline points="2737.7,286.5 2787.2,285.8 2834.8,283.8 2888.1,280.6" stroke="#dbdbdb" stroke-width="1.6" opacity="0.85"/>
<polyline points="2737.7,286.5 2787.2,285.8 2834.8,283.8 2888.1,280.6" stroke="#adadad" stroke-width="5.5" opacity="0.35"/>
<polyline points="2764.3,270.3 2796.7,269.4 2819.5,268.0 2842.4,266.9" stroke="#bdbdbd" stroke-width="1.8" opacity="0.56"/>
<polyline points="2791.0,269.6 2831.0,267.5" stroke="#cfcfcf" stroke-width="2.2" opacity="0.49"/>
<polyline points="2758.6,238.4 2789.1,237.2 2827.2,235.1 2844.3,233.2" stroke="#afafaf" stroke-width="1.6" opacity="0.42"/>
<polyline points="2789.1,237.2 2827.2,235.1" stroke="#d4d4d4" stroke-width="2.2" opacity="0.56"/>
<polyline points="2743.4,222.1 2787.2,221.3 2827.2,219.0" stroke="#acacac" stroke-width="1.5" opacity="0.39"/>
<polyline points="2791.0,202.7 2804.3,202.1" stroke="#b2b2b2" stroke-width="1.8" opacity="0.45"/>
<polyline points="2791.0,187.2 2802.4,186.6" stroke="#b1b1b1" stroke-width="1.6" opacity="0.42"/>
<polyline points="2831.0,183.4 2844.3,183.1" stroke="#b1b1b1" stroke-width="1.6" opacity="0.42"/>
<polyline points="2739.6,172.3 2760.5,172.3" stroke="#b1b1b1" stroke-width="1.6" opacity="0.42"/>
<polyline points="2785.3,172.3 2802.4,169.5" stroke="#b2b2b2" stroke-width="1.6" opacity="0.45"/>
<polyline points="2827.2,164.4 2846.2,164.4" stroke="#b1b1b1" stroke-width="1.6" opacity="0.42"/>
<polyline points="2756.7,153.1 2766.2,155.3 2777.7,156.5 2791.0,154.6 2806.2,150.5 2821.4,147.7 2838.6,146.7 2850.0,145.5" stroke="#b8b8b8" stroke-width="1.8" opacity="0.56"/>
<polyline points="2827.2,129.7 2853.8,129.7" stroke="#a7a7a7" stroke-width="1.5" opacity="0.35"/>
<polyline points="2591.5,302.9 2738.1,303.2" stroke="#d1d1d1" stroke-width="2.2" opacity="0.80"/>
<polyline points="2564.8,320.0 2738.1,320.1" stroke="#b2b2b2" stroke-width="1.6" opacity="0.45"/>
<polyline points="2490.6,283.0 2528.7,300.4 2572.4,320.9" stroke="#b8b8b8" stroke-width="1.6" opacity="0.50"/>
<polyline points="2515.3,284.6 2553.4,302.0 2591.5,319.3" stroke="#b2b2b2" stroke-width="1.4" opacity="0.40"/>
<polyline points="2534.4,324.9 2582.0,326.5" stroke="#cccccc" stroke-width="1.8" opacity="0.60"/>
</g>
</g></g>
<rect x="2315.45" y="82.25" width="571.10" height="252.90" fill="none" stroke="#231f20" stroke-width="2.9"/>
<path d="M2410.6 336.6V321.6M2505.8 336.6V321.6M2601.0 336.6V321.6M2696.2 336.6V321.6M2791.4 336.6V321.6M2314.0 256.1H2329.0M2314.0 177.1H2329.0M2314.0 98.1H2329.0" stroke="#231f20" stroke-width="2.8" fill="none"/>
<text x="2298.5" y="349.1" font-size="54" text-anchor="end">0</text>
<text x="2298.5" y="270.0" font-size="54" text-anchor="end">5</text>
<text x="2298.5" y="191.0" font-size="54" text-anchor="end">10</text>
<text x="2298.5" y="112.0" font-size="54" text-anchor="end">15</text>
<text x="2315.4" y="393.2" font-size="54" text-anchor="middle">0</text>
<text x="2410.6" y="393.2" font-size="54" text-anchor="middle">0.5</text>
<text x="2505.8" y="393.2" font-size="54" text-anchor="middle">1.0</text>
<text x="2601.0" y="393.2" font-size="54" text-anchor="middle">1.5</text>
<text x="2696.2" y="393.2" font-size="54" text-anchor="middle">2.0</text>
<text x="2791.4" y="393.2" font-size="54" text-anchor="middle">2.5</text>
<text x="2886.5" y="393.2" font-size="54" text-anchor="middle">3.0</text>
<text x="2315.1" y="64.1" font-size="54" letter-spacing="0.3">×10<tspan font-size="33" dy="-17.7">3</tspan></text>
<text transform="translate(2218.8 208.5) rotate(-90)" font-size="56" text-anchor="middle">频率/kHz</text>
<text x="2600.5" y="454.9" font-size="56" text-anchor="middle">时间/s</text>
<text x="2598.5" y="524.7" font-size="55.5" text-anchor="middle">(c) 虎鲸原始音频</text>
<rect x="2898.3" y="83.2" width="13.8" height="252.9" fill="url(#cb)" stroke="#2a2226" stroke-width="0.8"/>
<path d="M2912.1 102.5h3.2M2912.1 165.0h3.2M2912.1 227.3h3.2M2912.1 289.2h3.2" stroke="#231f20" stroke-width="1" fill="none"/>
<text x="2917.8" y="116.3" font-size="54">−<tspan dx="-1.6">25</tspan></text>
<text x="2917.8" y="178.0" font-size="54">−<tspan dx="-1.6">50</tspan></text>
<text x="2917.8" y="239.9" font-size="54">−<tspan dx="-1.6">75</tspan></text>
<text x="2917.8" y="302.2" font-size="54">−<tspan dx="-1.6">100</tspan></text>
<text transform="translate(3083.8 210.4) rotate(-90)" font-size="54" text-anchor="middle">强度/dB</text>
<filter id="fd" filterUnits="userSpaceOnUse" x="196.6" y="647.2" width="571.1" height="252.9" color-interpolation-filters="sRGB">
<feTurbulence type="fractalNoise" baseFrequency="0.30 0.40" numOctaves="2" seed="7" result="n"/>
<feColorMatrix in="n" type="matrix" values="1 0 0 0 0 1 0 0 0 0 1 0 0 0 0 0 0 0 0 1" result="g"/>
<feComposite in="SourceGraphic" in2="g" operator="arithmetic" k1="0" k2="1" k3="0.2" k4="-0.100" result="v1"/>
<feTurbulence type="fractalNoise" baseFrequency="0.22 0.012" numOctaves="1" seed="14" result="m"/>
<feColorMatrix in="m" type="matrix" values="1 0 0 0 0 1 0 0 0 0 1 0 0 0 0 0 0 0 0 1" result="mg"/>
<feComposite in="v1" in2="mg" operator="arithmetic" k1="0" k2="1" k3="0.08" k4="-0.040" result="v"/>
<feComponentTransfer in="v"><feFuncR type="table" tableValues="0.227 0.235 0.242 0.250 0.257 0.264 0.272 0.281 0.291 0.301 0.311 0.308 0.301 0.294 0.286 0.277 0.269 0.276 0.283 0.290 0.305 0.322 0.339 0.361 0.384 0.408 0.431 0.454 0.485 0.514 0.542 0.567 0.591 0.634 0.677 0.720 0.766 0.814 0.844 0.873 0.902 0.914 0.919 0.923 0.922 0.913 0.904 0.895 0.886 0.866 0.846 0.827 0.807 0.787 0.758 0.728 0.698 0.668 0.638 0.608 0.572 0.537 0.502 0.467 0.431"/><feFuncG type="table" tableValues="0.165 0.192 0.219 0.246 0.282 0.322 0.361 0.396 0.429 0.461 0.494 0.536 0.580 0.624 0.650 0.663 0.676 0.681 0.687 0.693 0.696 0.698 0.700 0.707 0.717 0.727 0.737 0.747 0.760 0.772 0.784 0.795 0.805 0.816 0.828 0.840 0.810 0.769 0.728 0.688 0.647 0.601 0.553 0.506 0.463 0.425 0.388 0.351 0.314 0.296 0.277 0.259 0.240 0.222 0.211 0.202 0.192 0.183 0.173 0.164 0.158 0.152 0.146 0.139 0.133"/><feFuncB type="table" tableValues="0.376 0.448 0.519 0.590 0.625 0.652 0.679 0.705 0.729 0.754 0.778 0.799 0.819 0.839 0.820 0.771 0.723 0.674 0.627 0.580 0.542 0.507 0.473 0.444 0.419 0.395 0.371 0.350 0.348 0.345 0.340 0.332 0.321 0.311 0.300 0.287 0.284 0.283 0.277 0.270 0.265 0.254 0.241 0.229 0.218 0.206 0.195 0.184 0.173 0.173 0.173 0.173 0.173 0.173 0.174 0.175 0.176 0.178 0.179 0.181 0.182 0.184 0.185 0.187 0.188"/></feComponentTransfer>
</filter>
<linearGradient id="gd" x1="0" y1="1" x2="0" y2="0">
<stop offset="0.0000" stop-color="#999999"/>
<stop offset="0.0250" stop-color="#878787"/>
<stop offset="0.0625" stop-color="#828282"/>
<stop offset="0.2000" stop-color="#828282"/>
<stop offset="0.2188" stop-color="#7d7d7d"/>
<stop offset="0.3750" stop-color="#7d7d7d"/>
<stop offset="0.6250" stop-color="#7d7d7d"/>
<stop offset="0.8750" stop-color="#787878"/>
<stop offset="1.0000" stop-color="#737373"/>
</linearGradient>
<clipPath id="cd"><rect x="196.6" y="647.2" width="571.1" height="252.9"/></clipPath>
<g filter="url(#fd)"><g clip-path="url(#cd)">
<rect x="196.6" y="647.2" width="571.1" height="252.9" fill="url(#gd)"/>
<rect x="234.7" y="848.0" width="190.4" height="47.4" fill="#a3a3a3" opacity="0.55" filter="url(#blb)"/>
<rect x="625.0" y="848.0" width="142.8" height="47.4" fill="#a3a3a3" opacity="0.55" filter="url(#blb)"/>
<rect x="425.1" y="647.2" width="199.9" height="240.3" fill="#636363" opacity="0.5" filter="url(#blb)"/>
<rect x="558.3" y="647.2" width="41.9" height="233.9" fill="#4f4f4f" opacity="0.45" filter="url(#blb)"/>
<rect x="196.6" y="821.1" width="38.1" height="63.2" fill="#666666" opacity="0.5" filter="url(#blb)"/>
<rect x="196.6" y="892.2" width="152.3" height="7.9" fill="#adadad" opacity="0.5" filter="url(#blb)"/>
<filter id="cnd0" filterUnits="userSpaceOnUse" x="234.7" y="846.4" width="190.4" height="53.7" color-interpolation-filters="sRGB"><feTurbulence type="fractalNoise" baseFrequency="0.24 0.38" numOctaves="2" seed="38"/><feColorMatrix type="matrix" values="0.8 0 0 0 0.200 0.8 0 0 0 0.200 0.8 0 0 0 0.200 0 0 0 0 1"/></filter>
<linearGradient id="cmd0" gradientUnits="userSpaceOnUse" x1="0" y1="846.4" x2="0" y2="900.1"><stop offset="0" stop-color="#000"/><stop offset="0.220" stop-color="#fff"/><stop offset="1" stop-color="#fff"/></linearGradient>
<mask id="ckd0" maskUnits="userSpaceOnUse" x="234.7" y="846.4" width="190.4" height="53.7"><rect x="234.7" y="846.4" width="190.4" height="53.7" fill="url(#cmd0)"/></mask>
<g mask="url(#ckd0)" opacity="0.32"><rect x="234.7" y="846.4" width="190.4" height="53.7" fill="#888" filter="url(#cnd0)"/></g>
<filter id="cnd1" filterUnits="userSpaceOnUse" x="625.0" y="846.4" width="142.8" height="53.7" color-interpolation-filters="sRGB"><feTurbulence type="fractalNoise" baseFrequency="0.24 0.38" numOctaves="2" seed="39"/><feColorMatrix type="matrix" values="0.8 0 0 0 0.200 0.8 0 0 0 0.200 0.8 0 0 0 0.200 0 0 0 0 1"/></filter>
<linearGradient id="cmd1" gradientUnits="userSpaceOnUse" x1="0" y1="846.4" x2="0" y2="900.1"><stop offset="0" stop-color="#000"/><stop offset="0.220" stop-color="#fff"/><stop offset="1" stop-color="#fff"/></linearGradient>
<mask id="ckd1" maskUnits="userSpaceOnUse" x="625.0" y="846.4" width="142.8" height="53.7"><rect x="625.0" y="846.4" width="142.8" height="53.7" fill="url(#cmd1)"/></mask>
<g mask="url(#ckd1)" opacity="0.32"><rect x="625.0" y="846.4" width="142.8" height="53.7" fill="#888" filter="url(#cnd1)"/></g>
<g filter="url(#bl)">
<rect x="203.8" y="715.2" width="3.2" height="15.8" fill="#999999" opacity="0.16"/>
<rect x="235.3" y="685.2" width="3.4" height="96.4" fill="#999999" opacity="0.12"/>
<rect x="235.2" y="702.6" width="3.6" height="56.9" fill="#a3a3a3" opacity="0.26"/>
<rect x="265.3" y="688.3" width="2.7" height="61.6" fill="#8f8f8f" opacity="0.12"/>
<rect x="304.8" y="650.4" width="3.4" height="162.8" fill="#999999" opacity="0.14"/>
<rect x="304.6" y="675.7" width="3.8" height="94.8" fill="#a6a6a6" opacity="0.24"/>
<rect x="304.4" y="712.1" width="4.2" height="42.7" fill="#a8a8a8" opacity="0.32"/>
<rect x="589.9" y="715.2" width="3.2" height="15.8" fill="#999999" opacity="0.16"/>
<rect x="621.4" y="685.2" width="3.4" height="96.4" fill="#999999" opacity="0.12"/>
<rect x="621.3" y="702.6" width="3.6" height="56.9" fill="#a3a3a3" opacity="0.26"/>
<rect x="651.4" y="688.3" width="2.7" height="61.6" fill="#8f8f8f" opacity="0.12"/>
<rect x="690.9" y="650.4" width="3.4" height="162.8" fill="#999999" opacity="0.14"/>
<rect x="690.7" y="675.7" width="3.8" height="94.8" fill="#a6a6a6" opacity="0.24"/>
<rect x="690.5" y="712.1" width="4.2" height="42.7" fill="#a8a8a8" opacity="0.32"/>
<rect x="415.9" y="675.7" width="3.2" height="129.6" fill="#999999" opacity="0.12"/>
<rect x="415.6" y="693.1" width="3.8" height="56.9" fill="#adadad" opacity="0.30"/>
<rect x="513.0" y="680.4" width="3.2" height="121.7" fill="#999999" opacity="0.12"/>
<rect x="512.8" y="689.9" width="3.6" height="49.0" fill="#adadad" opacity="0.28"/>
<rect x="249.7" y="816.4" width="5.8" height="28.5" fill="#d6d6d6" opacity="0.90"/>
<rect x="250.0" y="808.5" width="5.2" height="41.1" fill="#b2b2b2" opacity="0.60"/>
<rect x="347.1" y="859.1" width="3.7" height="17.4" fill="#c7c7c7" opacity="0.60"/>
</g>
<g filter="url(#blh)" fill="none" stroke-linecap="round" stroke-linejoin="round">
<polyline points="230.0,884.3 446.0,884.0" stroke="#ededed" stroke-width="1.5" opacity="0.81"/>
<polyline points="230.0,884.3 446.0,884.0" stroke="#adadad" stroke-width="5.0" opacity="0.30"/>
<polyline points="230.0,868.5 282.3,868.2 320.4,867.0 358.5,866.0 396.5,866.6 472.7,867.9" stroke="#fafafa" stroke-width="2.0" opacity="0.82"/>
<polyline points="230.0,868.5 282.3,868.2 320.4,867.0 358.5,866.0 396.5,866.6 472.7,867.9" stroke="#b5b5b5" stroke-width="6.5" opacity="0.34"/>
<polyline points="230.0,851.5 282.3,850.8 329.9,848.8 368.0,847.5 406.1,848.3" stroke="#dbdbdb" stroke-width="1.6" opacity="0.72"/>
<polyline points="230.0,851.5 282.3,850.8 329.9,848.8 368.0,847.5 406.1,848.3" stroke="#adadad" stroke-width="5.5" opacity="0.30"/>
<polyline points="259.5,835.3 291.8,834.4 314.7,833.0 337.5,831.9" stroke="#bdbdbd" stroke-width="1.8" opacity="0.27"/>
<polyline points="286.1,834.6 326.1,832.5" stroke="#cfcfcf" stroke-width="2.2" opacity="0.24"/>
<polyline points="253.8,803.4 284.2,802.2 322.3,800.1 339.4,798.2" stroke="#afafaf" stroke-width="1.6" opacity="0.20"/>
<polyline points="284.2,802.2 322.3,800.1" stroke="#d4d4d4" stroke-width="2.2" opacity="0.27"/>
<polyline points="238.5,787.1 282.3,786.3 322.3,784.0" stroke="#acacac" stroke-width="1.5" opacity="0.19"/>
<polyline points="286.1,767.7 299.4,767.1" stroke="#b2b2b2" stroke-width="1.8" opacity="0.22"/>
<polyline points="286.1,752.2 297.5,751.6" stroke="#b1b1b1" stroke-width="1.6" opacity="0.20"/>
<polyline points="326.1,748.4 339.4,748.1" stroke="#b1b1b1" stroke-width="1.6" opacity="0.20"/>
<polyline points="234.7,737.3 255.7,737.3" stroke="#b1b1b1" stroke-width="1.6" opacity="0.20"/>
<polyline points="280.4,737.3 297.5,734.5" stroke="#b2b2b2" stroke-width="1.6" opacity="0.22"/>
<polyline points="322.3,729.4 341.3,729.4" stroke="#b1b1b1" stroke-width="1.6" opacity="0.20"/>
<polyline points="251.9,718.1 261.4,720.3 272.8,721.5 286.1,719.6 301.4,715.5 316.6,712.7 333.7,711.7 345.1,710.5" stroke="#b8b8b8" stroke-width="1.8" opacity="0.27"/>
<polyline points="322.3,694.7 348.9,694.7" stroke="#a7a7a7" stroke-width="1.5" opacity="0.17"/>
<polyline points="618.9,884.3 769.3,884.0" stroke="#ededed" stroke-width="1.5" opacity="0.81"/>
<polyline points="618.9,884.3 769.3,884.0" stroke="#adadad" stroke-width="5.0" opacity="0.30"/>
<polyline points="618.9,868.5 668.4,868.2 706.5,866.6 744.5,865.1 769.3,864.1" stroke="#fafafa" stroke-width="2.0" opacity="0.82"/>
<polyline points="618.9,868.5 668.4,868.2 706.5,866.6 744.5,865.1 769.3,864.1" stroke="#b5b5b5" stroke-width="6.5" opacity="0.34"/>
<polyline points="618.9,851.5 668.4,850.8 716.0,848.8 769.3,845.6" stroke="#dbdbdb" stroke-width="1.6" opacity="0.72"/>
<polyline points="618.9,851.5 668.4,850.8 716.0,848.8 769.3,845.6" stroke="#adadad" stroke-width="5.5" opacity="0.30"/>
<polyline points="645.5,835.3 677.9,834.4 700.7,833.0 723.6,831.9" stroke="#bdbdbd" stroke-width="1.8" opacity="0.27"/>
<polyline points="672.2,834.6 712.2,832.5" stroke="#cfcfcf" stroke-width="2.2" opacity="0.24"/>
<polyline points="639.8,803.4 670.3,802.2 708.4,800.1 725.5,798.2" stroke="#afafaf" stroke-width="1.6" opacity="0.20"/>
<polyline points="670.3,802.2 708.4,800.1" stroke="#d4d4d4" stroke-width="2.2" opacity="0.27"/>
<polyline points="624.6,787.1 668.4,786.3 708.4,784.0" stroke="#acacac" stroke-width="1.5" opacity="0.19"/>
<polyline points="672.2,767.7 685.5,767.1" stroke="#b2b2b2" stroke-width="1.8" opacity="0.22"/>
<polyline points="672.2,752.2 683.6,751.6" stroke="#b1b1b1" stroke-width="1.6" opacity="0.20"/>
<polyline points="712.2,748.4 725.5,748.1" stroke="#b1b1b1" stroke-width="1.6" opacity="0.20"/>
<polyline points="620.8,737.3 641.7,737.3" stroke="#b1b1b1" stroke-width="1.6" opacity="0.20"/>
<polyline points="666.5,737.3 683.6,734.5" stroke="#b2b2b2" stroke-width="1.6" opacity="0.22"/>
<polyline points="708.4,729.4 727.4,729.4" stroke="#b1b1b1" stroke-width="1.6" opacity="0.20"/>
<polyline points="637.9,718.1 647.4,720.3 658.9,721.5 672.2,719.6 687.4,715.5 702.6,712.7 719.8,711.7 731.2,710.5" stroke="#b8b8b8" stroke-width="1.8" opacity="0.27"/>
<polyline points="708.4,694.7 735.0,694.7" stroke="#a7a7a7" stroke-width="1.5" opacity="0.17"/>
<polyline points="491.7,867.9 558.3,867.9" stroke="#cccccc" stroke-width="2.0" opacity="0.70"/>
<polyline points="567.9,867.9 586.9,867.9" stroke="#bfbfbf" stroke-width="2.0" opacity="0.60"/>
</g>
</g></g>
<rect x="196.65" y="647.25" width="571.10" height="252.90" fill="none" stroke="#231f20" stroke-width="2.9"/>
<path d="M291.8 901.6V886.6M387.0 901.6V886.6M482.2 901.6V886.6M577.4 901.6V886.6M672.6 901.6V886.6M195.2 821.1H210.2M195.2 742.1H210.2M195.2 663.1H210.2" stroke="#231f20" stroke-width="2.8" fill="none"/>
<text x="179.8" y="913.8" font-size="54" text-anchor="end">0</text>
<text x="179.8" y="834.7" font-size="54" text-anchor="end">5</text>
<text x="179.8" y="755.7" font-size="54" text-anchor="end">10</text>
<text x="179.8" y="676.7" font-size="54" text-anchor="end">15</text>
<text x="196.8" y="957.9" font-size="54" text-anchor="middle">0</text>
<text x="291.9" y="957.9" font-size="54" text-anchor="middle">0.5</text>
<text x="387.1" y="957.9" font-size="54" text-anchor="middle">1.0</text>
<text x="482.3" y="957.9" font-size="54" text-anchor="middle">1.5</text>
<text x="577.5" y="957.9" font-size="54" text-anchor="middle">2.0</text>
<text x="672.7" y="957.9" font-size="54" text-anchor="middle">2.5</text>
<text x="767.8" y="957.9" font-size="54" text-anchor="middle">3.0</text>
<text x="196.4" y="628.8" font-size="54" letter-spacing="0.3">×10<tspan font-size="33" dy="-17.7">3</tspan></text>
<text transform="translate(100.1 773.2) rotate(-90)" font-size="56" text-anchor="middle">频率/kHz</text>
<text x="481.8" y="1019.6" font-size="56" text-anchor="middle">时间/s</text>
<text x="479.8" y="1089.4" font-size="55.5" text-anchor="middle">(d) TasNet分离虎鲸音频</text>
<rect x="783.3" y="647.2" width="13.8" height="253.5" fill="url(#cb)" stroke="#2a2226" stroke-width="0.8"/>
<path d="M797.1 696.1h3.2M797.1 747.0h3.2M797.1 798.2h3.2M797.1 849.5h3.2" stroke="#231f20" stroke-width="1" fill="none"/>
<text x="801.8" y="712.5" font-size="54">−<tspan dx="-1.6">40</tspan></text>
<text x="801.8" y="763.7" font-size="54">−<tspan dx="-1.6">60</tspan></text>
<text x="801.8" y="815.0" font-size="54">−<tspan dx="-1.6">80</tspan></text>
<text x="801.8" y="865.6" font-size="54">−<tspan dx="-1.6">100</tspan></text>
<text transform="translate(966.1 774.9) rotate(-90)" font-size="54" text-anchor="middle">强度/dB</text>
<filter id="fe" filterUnits="userSpaceOnUse" x="1276.7" y="645.6" width="571.1" height="252.9" color-interpolation-filters="sRGB">
<feTurbulence type="fractalNoise" baseFrequency="0.30 0.40" numOctaves="2" seed="9" result="n"/>
<feColorMatrix in="n" type="matrix" values="1 0 0 0 0 1 0 0 0 0 1 0 0 0 0 0 0 0 0 1" result="g"/>
<feComposite in="SourceGraphic" in2="g" operator="arithmetic" k1="0" k2="1" k3="0.2" k4="-0.100" result="v1"/>
<feTurbulence type="fractalNoise" baseFrequency="0.22 0.012" numOctaves="1" seed="16" result="m"/>
<feColorMatrix in="m" type="matrix" values="1 0 0 0 0 1 0 0 0 0 1 0 0 0 0 0 0 0 0 1" result="mg"/>
<feComposite in="v1" in2="mg" operator="arithmetic" k1="0" k2="1" k3="0.08" k4="-0.040" result="v"/>
<feComponentTransfer in="v"><feFuncR type="table" tableValues="0.227 0.235 0.242 0.250 0.257 0.264 0.272 0.281 0.291 0.301 0.311 0.308 0.301 0.294 0.286 0.277 0.269 0.276 0.283 0.290 0.305 0.322 0.339 0.361 0.384 0.408 0.431 0.454 0.485 0.514 0.542 0.567 0.591 0.634 0.677 0.720 0.766 0.814 0.844 0.873 0.902 0.914 0.919 0.923 0.922 0.913 0.904 0.895 0.886 0.866 0.846 0.827 0.807 0.787 0.758 0.728 0.698 0.668 0.638 0.608 0.572 0.537 0.502 0.467 0.431"/><feFuncG type="table" tableValues="0.165 0.192 0.219 0.246 0.282 0.322 0.361 0.396 0.429 0.461 0.494 0.536 0.580 0.624 0.650 0.663 0.676 0.681 0.687 0.693 0.696 0.698 0.700 0.707 0.717 0.727 0.737 0.747 0.760 0.772 0.784 0.795 0.805 0.816 0.828 0.840 0.810 0.769 0.728 0.688 0.647 0.601 0.553 0.506 0.463 0.425 0.388 0.351 0.314 0.296 0.277 0.259 0.240 0.222 0.211 0.202 0.192 0.183 0.173 0.164 0.158 0.152 0.146 0.139 0.133"/><feFuncB type="table" tableValues="0.376 0.448 0.519 0.590 0.625 0.652 0.679 0.705 0.729 0.754 0.778 0.799 0.819 0.839 0.820 0.771 0.723 0.674 0.627 0.580 0.542 0.507 0.473 0.444 0.419 0.395 0.371 0.350 0.348 0.345 0.340 0.332 0.321 0.311 0.300 0.287 0.284 0.283 0.277 0.270 0.265 0.254 0.241 0.229 0.218 0.206 0.195 0.184 0.173 0.173 0.173 0.173 0.173 0.173 0.174 0.175 0.176 0.178 0.179 0.181 0.182 0.184 0.185 0.187 0.188"/></feComponentTransfer>
</filter>
<linearGradient id="ge" x1="0" y1="1" x2="0" y2="0">
<stop offset="0.0000" stop-color="#a8a8a8"/>
<stop offset="0.0312" stop-color="#9c9c9c"/>
<stop offset="0.0750" stop-color="#8e8e8e"/>
<stop offset="0.1750" stop-color="#8a8a8a"/>
<stop offset="0.2062" stop-color="#868686"/>
<stop offset="0.2250" stop-color="#828282"/>
<stop offset="0.5000" stop-color="#818181"/>
<stop offset="0.6875" stop-color="#7d7d7d"/>
<stop offset="0.8125" stop-color="#757575"/>
<stop offset="0.9375" stop-color="#6b6b6b"/>
<stop offset="1.0000" stop-color="#636363"/>
</linearGradient>
<clipPath id="ce"><rect x="1276.7" y="645.6" width="571.1" height="252.9"/></clipPath>
<g filter="url(#fe)"><g clip-path="url(#ce)">
<rect x="1276.7" y="645.6" width="571.1" height="252.9" fill="url(#ge)"/>
<rect x="1425.1" y="653.5" width="26.7" height="118.5" fill="#545454" opacity="0.55" filter="url(#blb)"/>
<rect x="1644.1" y="653.5" width="32.4" height="226.0" fill="#5c5c5c" opacity="0.5" filter="url(#blb)"/>
<rect x="1448.0" y="882.6" width="247.5" height="15.8" fill="#b2b2b2" opacity="0.4" filter="url(#blb)"/>
<filter id="cne0" filterUnits="userSpaceOnUse" x="1276.7" y="844.7" width="571.1" height="53.7" color-interpolation-filters="sRGB"><feTurbulence type="fractalNoise" baseFrequency="0.24 0.38" numOctaves="2" seed="40"/><feColorMatrix type="matrix" values="0.7 0 0 0 0.200 0.7 0 0 0 0.200 0.7 0 0 0 0.200 0 0 0 0 1"/></filter>
<linearGradient id="cme0" gradientUnits="userSpaceOnUse" x1="0" y1="844.7" x2="0" y2="898.5"><stop offset="0" stop-color="#000"/><stop offset="0.220" stop-color="#fff"/><stop offset="1" stop-color="#fff"/></linearGradient>
<mask id="cke0" maskUnits="userSpaceOnUse" x="1276.7" y="844.7" width="571.1" height="53.7"><rect x="1276.7" y="844.7" width="571.1" height="53.7" fill="url(#cme0)"/></mask>
<g mask="url(#cke0)" opacity="0.3"><rect x="1276.7" y="844.7" width="571.1" height="53.7" fill="#888" filter="url(#cne0)"/></g>
<g filter="url(#bl)">
<rect x="1283.8" y="713.5" width="3.2" height="15.8" fill="#a3a3a3" opacity="0.27"/>
<rect x="1315.3" y="683.5" width="3.4" height="96.4" fill="#a3a3a3" opacity="0.21"/>
<rect x="1315.2" y="700.9" width="3.6" height="56.9" fill="#adadad" opacity="0.45"/>
<rect x="1345.3" y="686.6" width="2.7" height="61.6" fill="#999999" opacity="0.21"/>
<rect x="1384.8" y="648.7" width="3.4" height="162.8" fill="#a3a3a3" opacity="0.24"/>
<rect x="1384.6" y="674.0" width="3.8" height="94.8" fill="#b0b0b0" opacity="0.42"/>
<rect x="1384.4" y="710.4" width="4.2" height="42.7" fill="#b8b8b8" opacity="0.54"/>
<rect x="1669.9" y="713.5" width="3.2" height="15.8" fill="#a3a3a3" opacity="0.27"/>
<rect x="1701.4" y="683.5" width="3.4" height="96.4" fill="#a3a3a3" opacity="0.21"/>
<rect x="1701.3" y="700.9" width="3.6" height="56.9" fill="#adadad" opacity="0.45"/>
<rect x="1731.4" y="686.6" width="2.7" height="61.6" fill="#999999" opacity="0.21"/>
<rect x="1770.9" y="648.7" width="3.4" height="162.8" fill="#a3a3a3" opacity="0.24"/>
<rect x="1770.7" y="674.0" width="3.8" height="94.8" fill="#b0b0b0" opacity="0.42"/>
<rect x="1770.5" y="710.4" width="4.2" height="42.7" fill="#b8b8b8" opacity="0.54"/>
<rect x="1495.9" y="674.0" width="3.2" height="129.6" fill="#a3a3a3" opacity="0.21"/>
<rect x="1495.6" y="691.4" width="3.8" height="56.9" fill="#b8b8b8" opacity="0.51"/>
<rect x="1593.0" y="678.7" width="3.2" height="121.7" fill="#a3a3a3" opacity="0.21"/>
<rect x="1592.8" y="688.2" width="3.6" height="49.0" fill="#b8b8b8" opacity="0.48"/>
<rect x="1330.8" y="813.1" width="3.7" height="31.6" fill="#a8a8a8" opacity="0.60"/>
<rect x="1433.1" y="809.9" width="3.2" height="37.9" fill="#adadad" opacity="0.60"/>
<rect x="1355.2" y="677.2" width="2.7" height="142.3" fill="#9e9e9e" opacity="0.40"/>
<rect x="1414.3" y="661.4" width="2.7" height="173.9" fill="#999999" opacity="0.40"/>
<rect x="1670.8" y="851.0" width="3.7" height="47.4" fill="#b2b2b2" opacity="0.50"/>
</g>
<g filter="url(#blh)" fill="none" stroke-linecap="round" stroke-linejoin="round">
<polyline points="1310.0,882.6 1526.0,882.3" stroke="#ededed" stroke-width="1.9500000000000002" opacity="0.90"/>
<polyline points="1310.0,882.6 1526.0,882.3" stroke="#adadad" stroke-width="6.5" opacity="0.33"/>
<polyline points="1310.0,866.8 1362.3,866.5 1400.4,865.3 1438.5,864.3 1476.5,864.9 1552.7,866.2" stroke="#fafafa" stroke-width="2.6" opacity="0.92"/>
<polyline points="1310.0,866.8 1362.3,866.5 1400.4,865.3 1438.5,864.3 1476.5,864.9 1552.7,866.2" stroke="#b5b5b5" stroke-width="8.450000000000001" opacity="0.38"/>
<polyline points="1310.0,849.8 1362.3,849.1 1409.9,847.1 1448.0,845.8 1486.1,846.6" stroke="#dbdbdb" stroke-width="2.08" opacity="0.81"/>
<polyline points="1310.0,849.8 1362.3,849.1 1409.9,847.1 1448.0,845.8 1486.1,846.6" stroke="#adadad" stroke-width="7.15" opacity="0.33"/>
<polyline points="1339.5,833.6 1371.8,832.7 1394.7,831.3 1417.5,830.2" stroke="#bdbdbd" stroke-width="1.8" opacity="0.53"/>
<polyline points="1366.1,832.9 1406.1,830.8" stroke="#cfcfcf" stroke-width="2.2" opacity="0.47"/>
<polyline points="1333.8,801.7 1364.2,800.5 1402.3,798.4 1419.4,796.5" stroke="#afafaf" stroke-width="1.6" opacity="0.40"/>
<polyline points="1364.2,800.5 1402.3,798.4" stroke="#d4d4d4" stroke-width="2.2" opacity="0.53"/>
<polyline points="1318.5,785.4 1362.3,784.6 1402.3,782.3" stroke="#acacac" stroke-width="1.5" opacity="0.37"/>
<polyline points="1366.1,766.0 1379.4,765.4" stroke="#b2b2b2" stroke-width="1.8" opacity="0.43"/>
<polyline points="1366.1,750.5 1377.5,749.9" stroke="#b1b1b1" stroke-width="1.6" opacity="0.40"/>
<polyline points="1406.1,746.7 1419.4,746.4" stroke="#b1b1b1" stroke-width="1.6" opacity="0.40"/>
<polyline points="1314.7,735.6 1335.7,735.6" stroke="#b1b1b1" stroke-width="1.6" opacity="0.40"/>
<polyline points="1360.4,735.6 1377.5,732.8" stroke="#b2b2b2" stroke-width="1.6" opacity="0.43"/>
<polyline points="1402.3,727.7 1421.3,727.7" stroke="#b1b1b1" stroke-width="1.6" opacity="0.40"/>
<polyline points="1331.9,716.4 1341.4,718.6 1352.8,719.8 1366.1,717.9 1381.4,713.8 1396.6,711.0 1413.7,710.0 1425.1,708.8" stroke="#b8b8b8" stroke-width="1.8" opacity="0.53"/>
<polyline points="1402.3,693.0 1428.9,693.0" stroke="#a7a7a7" stroke-width="1.5" opacity="0.33"/>
<polyline points="1698.9,882.6 1849.3,882.3" stroke="#ededed" stroke-width="1.9500000000000002" opacity="0.90"/>
<polyline points="1698.9,882.6 1849.3,882.3" stroke="#adadad" stroke-width="6.5" opacity="0.33"/>
<polyline points="1698.9,866.8 1748.4,866.5 1786.5,864.9 1824.5,863.4 1849.3,862.4" stroke="#fafafa" stroke-width="2.6" opacity="0.92"/>
<polyline points="1698.9,866.8 1748.4,866.5 1786.5,864.9 1824.5,863.4 1849.3,862.4" stroke="#b5b5b5" stroke-width="8.450000000000001" opacity="0.38"/>
<polyline points="1698.9,849.8 1748.4,849.1 1796.0,847.1 1849.3,843.9" stroke="#dbdbdb" stroke-width="2.08" opacity="0.81"/>
<polyline points="1698.9,849.8 1748.4,849.1 1796.0,847.1 1849.3,843.9" stroke="#adadad" stroke-width="7.15" opacity="0.33"/>
<polyline points="1725.5,833.6 1757.9,832.7 1780.7,831.3 1803.6,830.2" stroke="#bdbdbd" stroke-width="1.8" opacity="0.53"/>
<polyline points="1752.2,832.9 1792.2,830.8" stroke="#cfcfcf" stroke-width="2.2" opacity="0.47"/>
<polyline points="1719.8,801.7 1750.3,800.5 1788.4,798.4 1805.5,796.5" stroke="#afafaf" stroke-width="1.6" opacity="0.40"/>
<polyline points="1750.3,800.5 1788.4,798.4" stroke="#d4d4d4" stroke-width="2.2" opacity="0.53"/>
<polyline points="1704.6,785.4 1748.4,784.6 1788.4,782.3" stroke="#acacac" stroke-width="1.5" opacity="0.37"/>
<polyline points="1752.2,766.0 1765.5,765.4" stroke="#b2b2b2" stroke-width="1.8" opacity="0.43"/>
<polyline points="1752.2,750.5 1763.6,749.9" stroke="#b1b1b1" stroke-width="1.6" opacity="0.40"/>
<polyline points="1792.2,746.7 1805.5,746.4" stroke="#b1b1b1" stroke-width="1.6" opacity="0.40"/>
<polyline points="1700.8,735.6 1721.7,735.6" stroke="#b1b1b1" stroke-width="1.6" opacity="0.40"/>
<polyline points="1746.5,735.6 1763.6,732.8" stroke="#b2b2b2" stroke-width="1.6" opacity="0.43"/>
<polyline points="1788.4,727.7 1807.4,727.7" stroke="#b1b1b1" stroke-width="1.6" opacity="0.40"/>
<polyline points="1717.9,716.4 1727.4,718.6 1738.9,719.8 1752.2,717.9 1767.4,713.8 1782.6,711.0 1799.8,710.0 1811.2,708.8" stroke="#b8b8b8" stroke-width="1.8" opacity="0.53"/>
<polyline points="1788.4,693.0 1815.0,693.0" stroke="#a7a7a7" stroke-width="1.5" opacity="0.33"/>
<polyline points="1571.7,866.2 1638.3,866.2" stroke="#cccccc" stroke-width="2.4" opacity="0.70"/>
</g>
</g></g>
<rect x="1276.65" y="645.55" width="571.10" height="252.90" fill="none" stroke="#231f20" stroke-width="2.9"/>
<path d="M1371.8 899.9V884.9M1467.0 899.9V884.9M1562.2 899.9V884.9M1657.4 899.9V884.9M1752.6 899.9V884.9M1275.2 819.4H1290.2M1275.2 740.4H1290.2M1275.2 661.4H1290.2" stroke="#231f20" stroke-width="2.8" fill="none"/>
<text x="1259.7" y="913.8" font-size="54" text-anchor="end">0</text>
<text x="1259.7" y="834.7" font-size="54" text-anchor="end">5</text>
<text x="1259.7" y="755.7" font-size="54" text-anchor="end">10</text>
<text x="1259.7" y="676.7" font-size="54" text-anchor="end">15</text>
<text x="1276.7" y="957.9" font-size="54" text-anchor="middle">0</text>
<text x="1371.8" y="957.9" font-size="54" text-anchor="middle">0.5</text>
<text x="1467.0" y="957.9" font-size="54" text-anchor="middle">1.0</text>
<text x="1562.2" y="957.9" font-size="54" text-anchor="middle">1.5</text>
<text x="1657.4" y="957.9" font-size="54" text-anchor="middle">2.0</text>
<text x="1752.6" y="957.9" font-size="54" text-anchor="middle">2.5</text>
<text x="1847.8" y="957.9" font-size="54" text-anchor="middle">3.0</text>
<text x="1276.3" y="628.8" font-size="54" letter-spacing="0.3">×10<tspan font-size="33" dy="-17.7">3</tspan></text>
<text transform="translate(1180.0 773.2) rotate(-90)" font-size="56" text-anchor="middle">频率/kHz</text>
<text x="1561.7" y="1019.6" font-size="56" text-anchor="middle">时间/s</text>
<text x="1559.7" y="1089.4" font-size="52.9" text-anchor="middle">(e) Conv-TasNet分离虎鲸音频</text>
<rect x="1860.3" y="646.8" width="13.8" height="253.7" fill="url(#cb)" stroke="#2a2226" stroke-width="0.8"/>
<path d="M1874.1 678.0h3.2M1874.1 740.5h3.2M1874.1 803.5h3.2M1874.1 865.6h3.2" stroke="#231f20" stroke-width="1" fill="none"/>
<text x="1880.8" y="693.7" font-size="54">−<tspan dx="-1.6">25</tspan></text>
<text x="1880.8" y="753.5" font-size="54">−<tspan dx="-1.6">50</tspan></text>
<text x="1880.8" y="813.4" font-size="54">−<tspan dx="-1.6">75</tspan></text>
<text x="1880.8" y="877.5" font-size="54">−<tspan dx="-1.6">100</tspan></text>
<text transform="translate(2046.1 775.4) rotate(-90)" font-size="54" text-anchor="middle">强度/dB</text>
<filter id="ff" filterUnits="userSpaceOnUse" x="2315.4" y="647.2" width="571.1" height="252.9" color-interpolation-filters="sRGB">
<feTurbulence type="fractalNoise" baseFrequency="0.30 0.40" numOctaves="2" seed="13" result="n"/>
<feColorMatrix in="n" type="matrix" values="1 0 0 0 0 1 0 0 0 0 1 0 0 0 0 0 0 0 0 1" result="g"/>
<feComposite in="SourceGraphic" in2="g" operator="arithmetic" k1="0" k2="1" k3="0.2" k4="-0.100" result="v1"/>
<feTurbulence type="fractalNoise" baseFrequency="0.22 0.012" numOctaves="1" seed="20" result="m"/>
<feColorMatrix in="m" type="matrix" values="1 0 0 0 0 1 0 0 0 0 1 0 0 0 0 0 0 0 0 1" result="mg"/>
<feComposite in="v1" in2="mg" operator="arithmetic" k1="0" k2="1" k3="0.16" k4="-0.080" result="v"/>
<feComponentTransfer in="v"><feFuncR type="table" tableValues="0.227 0.235 0.242 0.250 0.257 0.264 0.272 0.281 0.291 0.301 0.311 0.308 0.301 0.294 0.286 0.277 0.269 0.276 0.283 0.290 0.305 0.322 0.339 0.361 0.384 0.408 0.431 0.454 0.485 0.514 0.542 0.567 0.591 0.634 0.677 0.720 0.766 0.814 0.844 0.873 0.902 0.914 0.919 0.923 0.922 0.913 0.904 0.895 0.886 0.866 0.846 0.827 0.807 0.787 0.758 0.728 0.698 0.668 0.638 0.608 0.572 0.537 0.502 0.467 0.431"/><feFuncG type="table" tableValues="0.165 0.192 0.219 0.246 0.282 0.322 0.361 0.396 0.429 0.461 0.494 0.536 0.580 0.624 0.650 0.663 0.676 0.681 0.687 0.693 0.696 0.698 0.700 0.707 0.717 0.727 0.737 0.747 0.760 0.772 0.784 0.795 0.805 0.816 0.828 0.840 0.810 0.769 0.728 0.688 0.647 0.601 0.553 0.506 0.463 0.425 0.388 0.351 0.314 0.296 0.277 0.259 0.240 0.222 0.211 0.202 0.192 0.183 0.173 0.164 0.158 0.152 0.146 0.139 0.133"/><feFuncB type="table" tableValues="0.376 0.448 0.519 0.590 0.625 0.652 0.679 0.705 0.729 0.754 0.778 0.799 0.819 0.839 0.820 0.771 0.723 0.674 0.627 0.580 0.542 0.507 0.473 0.444 0.419 0.395 0.371 0.350 0.348 0.345 0.340 0.332 0.321 0.311 0.300 0.287 0.284 0.283 0.277 0.270 0.265 0.254 0.241 0.229 0.218 0.206 0.195 0.184 0.173 0.173 0.173 0.173 0.173 0.173 0.174 0.175 0.176 0.178 0.179 0.181 0.182 0.184 0.185 0.187 0.188"/></feComponentTransfer>
</filter>
<linearGradient id="gf" x1="0" y1="1" x2="0" y2="0">
<stop offset="0.0000" stop-color="#ebebeb"/>
<stop offset="0.0187" stop-color="#d9d9d9"/>
<stop offset="0.0500" stop-color="#c4c4c4"/>
<stop offset="0.1000" stop-color="#b5b5b5"/>
<stop offset="0.1625" stop-color="#a8a8a8"/>
<stop offset="0.2125" stop-color="#9c9c9c"/>
<stop offset="0.3125" stop-color="#949494"/>
<stop offset="0.5000" stop-color="#8c8c8c"/>
<stop offset="0.7500" stop-color="#8a8a8a"/>
<stop offset="1.0000" stop-color="#878787"/>
</linearGradient>
<clipPath id="cf"><rect x="2315.4" y="647.2" width="571.1" height="252.9"/></clipPath>
<g filter="url(#ff)"><g clip-path="url(#cf)">
<rect x="2315.4" y="647.2" width="571.1" height="252.9" fill="url(#gf)"/>
<rect x="2532.5" y="655.2" width="26.7" height="150.2" fill="#737373" opacity="0.45" filter="url(#blb)"/>
<rect x="2562.9" y="663.1" width="38.1" height="94.8" fill="#7a7a7a" opacity="0.25" filter="url(#blb)"/>
<rect x="2776.1" y="710.5" width="49.5" height="63.2" fill="#787878" opacity="0.3" filter="url(#blb)"/>
<filter id="cnf0" filterUnits="userSpaceOnUse" x="2315.4" y="821.1" width="571.1" height="79.0" color-interpolation-filters="sRGB"><feTurbulence type="fractalNoise" baseFrequency="0.24 0.38" numOctaves="2" seed="44"/><feColorMatrix type="matrix" values="0.8 0 0 0 0.260 0.8 0 0 0 0.260 0.8 0 0 0 0.260 0 0 0 0 1"/></filter>
<linearGradient id="cmf0" gradientUnits="userSpaceOnUse" x1="0" y1="821.1" x2="0" y2="900.1"><stop offset="0" stop-color="#000"/><stop offset="0.220" stop-color="#fff"/><stop offset="1" stop-color="#fff"/></linearGradient>
<mask id="ckf0" maskUnits="userSpaceOnUse" x="2315.4" y="821.1" width="571.1" height="79.0"><rect x="2315.4" y="821.1" width="571.1" height="79.0" fill="url(#cmf0)"/></mask>
<g mask="url(#ckf0)" opacity="0.28"><rect x="2315.4" y="821.1" width="571.1" height="79.0" fill="#888" filter="url(#cnf0)"/></g>
<g filter="url(#bl)">
<rect x="2329.3" y="669.4" width="3.9" height="142.3" fill="#a6a6a6" opacity="0.40"/>
<rect x="2356.0" y="648.8" width="3.9" height="85.4" fill="#a1a1a1" opacity="0.35"/>
<rect x="2368.8" y="789.5" width="4.5" height="56.9" fill="#b0b0b0" opacity="0.40"/>
<rect x="2368.3" y="813.2" width="6.3" height="33.2" fill="#dbdbdb" opacity="0.76"/>
<rect x="2392.8" y="648.8" width="4.8" height="188.1" fill="#b0b0b0" opacity="0.60"/>
<rect x="2392.7" y="667.8" width="5.1" height="23.7" fill="#c7c7c7" opacity="0.70"/>
<rect x="2392.7" y="731.0" width="5.1" height="37.9" fill="#c7c7c7" opacity="0.65"/>
<rect x="2392.7" y="787.9" width="5.1" height="19.0" fill="#c7c7c7" opacity="0.70"/>
<rect x="2422.0" y="792.7" width="3.9" height="53.7" fill="#b0b0b0" opacity="0.40"/>
<rect x="2451.8" y="648.8" width="4.5" height="194.4" fill="#b0b0b0" opacity="0.45"/>
<rect x="2463.5" y="648.8" width="5.4" height="246.6" fill="#bababa" opacity="0.65"/>
<rect x="2462.8" y="783.2" width="6.9" height="91.7" fill="#cfcfcf" opacity="0.85"/>
<rect x="2463.2" y="795.8" width="6.9" height="58.5" fill="#e3e3e3" opacity="0.76"/>
<rect x="2471.2" y="821.1" width="4.5" height="31.6" fill="#b0b0b0" opacity="0.40"/>
<rect x="2491.3" y="648.8" width="3.9" height="101.2" fill="#a6a6a6" opacity="0.35"/>
<rect x="2490.7" y="787.9" width="5.1" height="39.5" fill="#bfbfbf" opacity="0.75"/>
<rect x="2504.0" y="702.6" width="3.6" height="110.6" fill="#a3a3a3" opacity="0.30"/>
<rect x="2521.1" y="686.8" width="3.6" height="110.6" fill="#a3a3a3" opacity="0.30"/>
<rect x="2548.7" y="694.7" width="3.3" height="110.6" fill="#a1a1a1" opacity="0.25"/>
<rect x="2564.9" y="648.8" width="3.6" height="53.7" fill="#a3a3a3" opacity="0.30"/>
<rect x="2564.8" y="833.8" width="3.9" height="25.3" fill="#b0b0b0" opacity="0.40"/>
<rect x="2606.3" y="693.1" width="5.1" height="191.3" fill="#b8b8b8" opacity="0.60"/>
<rect x="2605.8" y="754.7" width="6.0" height="120.1" fill="#cccccc" opacity="0.80"/>
<rect x="2629.8" y="680.4" width="4.8" height="126.4" fill="#b5b5b5" opacity="0.55"/>
<rect x="2629.8" y="718.4" width="4.8" height="31.6" fill="#bdbdbd" opacity="0.50"/>
<rect x="2637.1" y="789.5" width="3.9" height="31.6" fill="#b0b0b0" opacity="0.45"/>
<rect x="2681.3" y="648.8" width="5.4" height="226.0" fill="#bababa" opacity="0.65"/>
<rect x="2681.3" y="664.6" width="5.4" height="33.2" fill="#c7c7c7" opacity="0.70"/>
<rect x="2680.7" y="787.9" width="6.9" height="58.5" fill="#e3e3e3" opacity="0.78"/>
<rect x="2702.0" y="694.7" width="4.8" height="148.6" fill="#b0b0b0" opacity="0.50"/>
<rect x="2701.5" y="764.2" width="5.7" height="77.5" fill="#c7c7c7" opacity="0.75"/>
<rect x="2710.3" y="797.4" width="4.8" height="101.2" fill="#bababa" opacity="0.60"/>
<rect x="2723.7" y="648.8" width="4.8" height="197.6" fill="#b0b0b0" opacity="0.50"/>
<rect x="2723.5" y="715.2" width="5.1" height="39.5" fill="#bfbfbf" opacity="0.65"/>
<rect x="2723.4" y="797.4" width="5.4" height="49.0" fill="#c7c7c7" opacity="0.70"/>
<rect x="2741.0" y="726.3" width="3.6" height="94.8" fill="#a6a6a6" opacity="0.35"/>
<rect x="2763.3" y="757.9" width="4.8" height="88.5" fill="#b5b5b5" opacity="0.55"/>
<rect x="2763.0" y="786.3" width="5.4" height="23.7" fill="#c7c7c7" opacity="0.75"/>
<rect x="2796.4" y="671.0" width="3.6" height="86.9" fill="#a3a3a3" opacity="0.30"/>
<rect x="2832.8" y="648.8" width="5.4" height="203.9" fill="#bababa" opacity="0.65"/>
<rect x="2832.8" y="675.7" width="5.4" height="23.7" fill="#c7c7c7" opacity="0.70"/>
<rect x="2832.8" y="742.1" width="5.4" height="45.8" fill="#c2c2c2" opacity="0.60"/>
<rect x="2832.3" y="786.3" width="6.9" height="31.6" fill="#e3e3e3" opacity="0.78"/>
<rect x="2832.7" y="818.0" width="6.0" height="26.9" fill="#cccccc" opacity="0.80"/>
<rect x="2849.9" y="663.1" width="4.8" height="183.4" fill="#b0b0b0" opacity="0.50"/>
<rect x="2849.6" y="764.2" width="5.4" height="79.0" fill="#c2c2c2" opacity="0.70"/>
<rect x="2368.3" y="648.8" width="4.8" height="211.8" fill="#b0b0b0" opacity="0.45"/>
<rect x="2393.0" y="648.8" width="4.8" height="211.8" fill="#b0b0b0" opacity="0.45"/>
<rect x="2452.0" y="648.8" width="4.8" height="211.8" fill="#b0b0b0" opacity="0.45"/>
<rect x="2490.1" y="648.8" width="4.8" height="211.8" fill="#b0b0b0" opacity="0.45"/>
<rect x="2503.4" y="648.8" width="4.8" height="211.8" fill="#b0b0b0" opacity="0.45"/>
<rect x="2606.2" y="648.8" width="4.8" height="211.8" fill="#b0b0b0" opacity="0.45"/>
<rect x="2629.1" y="648.8" width="4.8" height="211.8" fill="#b0b0b0" opacity="0.45"/>
<rect x="2680.5" y="648.8" width="4.8" height="211.8" fill="#b0b0b0" opacity="0.45"/>
<rect x="2701.4" y="648.8" width="4.8" height="211.8" fill="#b0b0b0" opacity="0.45"/>
<rect x="2722.3" y="648.8" width="4.8" height="211.8" fill="#b0b0b0" opacity="0.45"/>
<rect x="2762.3" y="648.8" width="4.8" height="211.8" fill="#b0b0b0" opacity="0.45"/>
<rect x="2832.8" y="648.8" width="4.8" height="211.8" fill="#b0b0b0" opacity="0.45"/>
<rect x="2849.9" y="648.8" width="4.8" height="211.8" fill="#b0b0b0" opacity="0.45"/>
<rect x="2336.3" y="648.8" width="3.9" height="196.0" fill="#a8a8a8" opacity="0.30"/>
<rect x="2351.6" y="648.8" width="3.9" height="196.0" fill="#a8a8a8" opacity="0.30"/>
<rect x="2408.7" y="648.8" width="3.9" height="196.0" fill="#a8a8a8" opacity="0.30"/>
<rect x="2431.5" y="648.8" width="3.9" height="196.0" fill="#a8a8a8" opacity="0.30"/>
<rect x="2477.2" y="648.8" width="3.9" height="196.0" fill="#a8a8a8" opacity="0.30"/>
<rect x="2517.2" y="648.8" width="3.9" height="196.0" fill="#a8a8a8" opacity="0.30"/>
<rect x="2580.0" y="648.8" width="3.9" height="196.0" fill="#a8a8a8" opacity="0.30"/>
<rect x="2593.3" y="648.8" width="3.9" height="196.0" fill="#a8a8a8" opacity="0.30"/>
<rect x="2652.4" y="648.8" width="3.9" height="196.0" fill="#a8a8a8" opacity="0.30"/>
<rect x="2665.7" y="648.8" width="3.9" height="196.0" fill="#a8a8a8" opacity="0.30"/>
<rect x="2739.9" y="648.8" width="3.9" height="196.0" fill="#a8a8a8" opacity="0.30"/>
<rect x="2751.3" y="648.8" width="3.9" height="196.0" fill="#a8a8a8" opacity="0.30"/>
<rect x="2779.9" y="648.8" width="3.9" height="196.0" fill="#a8a8a8" opacity="0.30"/>
<rect x="2808.5" y="648.8" width="3.9" height="196.0" fill="#a8a8a8" opacity="0.30"/>
<rect x="2869.4" y="648.8" width="3.9" height="196.0" fill="#a8a8a8" opacity="0.30"/>
</g>
<g filter="url(#blh)" fill="none" stroke-linecap="round" stroke-linejoin="round">
<polyline points="2378.3,835.3 2410.6,834.4 2433.5,833.0 2456.3,831.9" stroke="#bdbdbd" stroke-width="1.8" opacity="0.32"/>
<polyline points="2404.9,834.6 2444.9,832.5" stroke="#cfcfcf" stroke-width="2.2" opacity="0.28"/>
<polyline points="2372.6,803.4 2403.0,802.2 2441.1,800.1 2458.2,798.2" stroke="#afafaf" stroke-width="1.6" opacity="0.24"/>
<polyline points="2403.0,802.2 2441.1,800.1" stroke="#d4d4d4" stroke-width="2.2" opacity="0.32"/>
<polyline points="2357.3,787.1 2401.1,786.3 2441.1,784.0" stroke="#acacac" stroke-width="1.5" opacity="0.22"/>
<polyline points="2404.9,767.7 2418.2,767.1" stroke="#b2b2b2" stroke-width="1.8" opacity="0.26"/>
<polyline points="2404.9,752.2 2416.3,751.6" stroke="#b1b1b1" stroke-width="1.6" opacity="0.24"/>
<polyline points="2444.9,748.4 2458.2,748.1" stroke="#b1b1b1" stroke-width="1.6" opacity="0.24"/>
<polyline points="2353.5,737.3 2374.5,737.3" stroke="#b1b1b1" stroke-width="1.6" opacity="0.24"/>
<polyline points="2399.2,737.3 2416.3,734.5" stroke="#b2b2b2" stroke-width="1.6" opacity="0.26"/>
<polyline points="2441.1,729.4 2460.1,729.4" stroke="#b1b1b1" stroke-width="1.6" opacity="0.24"/>
<polyline points="2370.7,718.1 2380.2,720.3 2391.6,721.5 2404.9,719.6 2420.2,715.5 2435.4,712.7 2452.5,711.7 2463.9,710.5" stroke="#b8b8b8" stroke-width="1.8" opacity="0.32"/>
<polyline points="2441.1,694.7 2467.7,694.7" stroke="#a7a7a7" stroke-width="1.5" opacity="0.20"/>
<polyline points="2764.3,835.3 2796.7,834.4 2819.5,833.0 2842.4,831.9" stroke="#bdbdbd" stroke-width="1.8" opacity="0.32"/>
<polyline points="2791.0,834.6 2831.0,832.5" stroke="#cfcfcf" stroke-width="2.2" opacity="0.28"/>
<polyline points="2758.6,803.4 2789.1,802.2 2827.2,800.1 2844.3,798.2" stroke="#afafaf" stroke-width="1.6" opacity="0.24"/>
<polyline points="2789.1,802.2 2827.2,800.1" stroke="#d4d4d4" stroke-width="2.2" opacity="0.32"/>
<polyline points="2743.4,787.1 2787.2,786.3 2827.2,784.0" stroke="#acacac" stroke-width="1.5" opacity="0.22"/>
<polyline points="2791.0,767.7 2804.3,767.1" stroke="#b2b2b2" stroke-width="1.8" opacity="0.26"/>
<polyline points="2791.0,752.2 2802.4,751.6" stroke="#b1b1b1" stroke-width="1.6" opacity="0.24"/>
<polyline points="2831.0,748.4 2844.3,748.1" stroke="#b1b1b1" stroke-width="1.6" opacity="0.24"/>
<polyline points="2739.6,737.3 2760.5,737.3" stroke="#b1b1b1" stroke-width="1.6" opacity="0.24"/>
<polyline points="2785.3,737.3 2802.4,734.5" stroke="#b2b2b2" stroke-width="1.6" opacity="0.26"/>
<polyline points="2827.2,729.4 2846.2,729.4" stroke="#b1b1b1" stroke-width="1.6" opacity="0.24"/>
<polyline points="2756.7,718.1 2766.2,720.3 2777.7,721.5 2791.0,719.6 2806.2,715.5 2821.4,712.7 2838.6,711.7 2850.0,710.5" stroke="#b8b8b8" stroke-width="1.8" opacity="0.32"/>
<polyline points="2827.2,694.7 2853.8,694.7" stroke="#a7a7a7" stroke-width="1.5" opacity="0.20"/>
<polyline points="2353.5,849.6 2886.5,848.8" stroke="#cccccc" stroke-width="1.5" opacity="0.35"/>
<polyline points="2353.5,867.7 2886.5,867.0" stroke="#d1d1d1" stroke-width="1.5" opacity="0.30"/>
<polyline points="2372.6,835.3 2467.7,833.8" stroke="#cccccc" stroke-width="1.5" opacity="0.40"/>
<polyline points="2762.8,835.3 2848.5,833.8" stroke="#cccccc" stroke-width="1.5" opacity="0.40"/>
</g>
</g></g>
<rect x="2315.45" y="647.25" width="571.10" height="252.90" fill="none" stroke="#231f20" stroke-width="2.9"/>
<path d="M2410.6 901.6V886.6M2505.8 901.6V886.6M2601.0 901.6V886.6M2696.2 901.6V886.6M2791.4 901.6V886.6M2314.0 821.1H2329.0M2314.0 742.1H2329.0M2314.0 663.1H2329.0" stroke="#231f20" stroke-width="2.8" fill="none"/>
<text x="2298.5" y="913.8" font-size="54" text-anchor="end">0</text>
<text x="2298.5" y="834.7" font-size="54" text-anchor="end">5</text>
<text x="2298.5" y="755.7" font-size="54" text-anchor="end">10</text>
<text x="2298.5" y="676.7" font-size="54" text-anchor="end">15</text>
<text x="2315.4" y="957.9" font-size="54" text-anchor="middle">0</text>
<text x="2410.6" y="957.9" font-size="54" text-anchor="middle">0.5</text>
<text x="2505.8" y="957.9" font-size="54" text-anchor="middle">1.0</text>
<text x="2601.0" y="957.9" font-size="54" text-anchor="middle">1.5</text>
<text x="2696.2" y="957.9" font-size="54" text-anchor="middle">2.0</text>
<text x="2791.4" y="957.9" font-size="54" text-anchor="middle">2.5</text>
<text x="2886.5" y="957.9" font-size="54" text-anchor="middle">3.0</text>
<text x="2315.1" y="628.8" font-size="54" letter-spacing="0.3">×10<tspan font-size="33" dy="-17.7">3</tspan></text>
<text transform="translate(2218.8 773.2) rotate(-90)" font-size="56" text-anchor="middle">频率/kHz</text>
<text x="2600.5" y="1019.6" font-size="56" text-anchor="middle">时间/s</text>
<text x="2598.5" y="1089.4" font-size="52.9" text-anchor="middle">(f) DPRNN分离虎鲸音频</text>
<rect x="2898.3" y="647.4" width="13.8" height="253.3" fill="url(#cb)" stroke="#2a2226" stroke-width="0.8"/>
<path d="M2912.1 693.5h3.2M2912.1 755.8h3.2M2912.1 818.3h3.2M2912.1 880.8h3.2" stroke="#231f20" stroke-width="1" fill="none"/>
<text x="2918.8" y="707.9" font-size="54">−<tspan dx="-1.6">25</tspan></text>
<text x="2918.8" y="768.6" font-size="54">−<tspan dx="-1.6">50</tspan></text>
<text x="2918.8" y="831.1" font-size="54">−<tspan dx="-1.6">75</tspan></text>
<text x="2918.8" y="892.2" font-size="54">−<tspan dx="-1.6">100</tspan></text>
<text transform="translate(3084.7 774.7) rotate(-90)" font-size="54" text-anchor="middle">强度/dB</text>
<filter id="fg" filterUnits="userSpaceOnUse" x="197.5" y="1214.2" width="571.1" height="252.9" color-interpolation-filters="sRGB">
<feTurbulence type="fractalNoise" baseFrequency="0.30 0.40" numOctaves="2" seed="15" result="n"/>
<feColorMatrix in="n" type="matrix" values="1 0 0 0 0 1 0 0 0 0 1 0 0 0 0 0 0 0 0 1" result="g"/>
<feComposite in="SourceGraphic" in2="g" operator="arithmetic" k1="0" k2="1" k3="0.25" k4="-0.125" result="v1"/>
<feTurbulence type="fractalNoise" baseFrequency="0.22 0.012" numOctaves="1" seed="22" result="m"/>
<feColorMatrix in="m" type="matrix" values="1 0 0 0 0 1 0 0 0 0 1 0 0 0 0 0 0 0 0 1" result="mg"/>
<feComposite in="v1" in2="mg" operator="arithmetic" k1="0" k2="1" k3="0.14" k4="-0.070" result="v"/>
<feComponentTransfer in="v"><feFuncR type="table" tableValues="0.227 0.235 0.242 0.250 0.257 0.264 0.272 0.281 0.291 0.301 0.311 0.308 0.301 0.294 0.286 0.277 0.269 0.276 0.283 0.290 0.305 0.322 0.339 0.361 0.384 0.408 0.431 0.454 0.485 0.514 0.542 0.567 0.591 0.634 0.677 0.720 0.766 0.814 0.844 0.873 0.902 0.914 0.919 0.923 0.922 0.913 0.904 0.895 0.886 0.866 0.846 0.827 0.807 0.787 0.758 0.728 0.698 0.668 0.638 0.608 0.572 0.537 0.502 0.467 0.431"/><feFuncG type="table" tableValues="0.165 0.192 0.219 0.246 0.282 0.322 0.361 0.396 0.429 0.461 0.494 0.536 0.580 0.624 0.650 0.663 0.676 0.681 0.687 0.693 0.696 0.698 0.700 0.707 0.717 0.727 0.737 0.747 0.760 0.772 0.784 0.795 0.805 0.816 0.828 0.840 0.810 0.769 0.728 0.688 0.647 0.601 0.553 0.506 0.463 0.425 0.388 0.351 0.314 0.296 0.277 0.259 0.240 0.222 0.211 0.202 0.192 0.183 0.173 0.164 0.158 0.152 0.146 0.139 0.133"/><feFuncB type="table" tableValues="0.376 0.448 0.519 0.590 0.625 0.652 0.679 0.705 0.729 0.754 0.778 0.799 0.819 0.839 0.820 0.771 0.723 0.674 0.627 0.580 0.542 0.507 0.473 0.444 0.419 0.395 0.371 0.350 0.348 0.345 0.340 0.332 0.321 0.311 0.300 0.287 0.284 0.283 0.277 0.270 0.265 0.254 0.241 0.229 0.218 0.206 0.195 0.184 0.173 0.173 0.173 0.173 0.173 0.173 0.174 0.175 0.176 0.178 0.179 0.181 0.182 0.184 0.185 0.187 0.188"/></feComponentTransfer>
</filter>
<linearGradient id="gg" x1="0" y1="1" x2="0" y2="0">
<stop offset="0.0000" stop-color="#d6d6d6"/>
<stop offset="0.0250" stop-color="#c9c9c9"/>
<stop offset="0.0625" stop-color="#bdbdbd"/>
<stop offset="0.1125" stop-color="#b2b2b2"/>
<stop offset="0.1625" stop-color="#ababab"/>
<stop offset="0.2125" stop-color="#a2a2a2"/>
<stop offset="0.3125" stop-color="#9a9a9a"/>
<stop offset="0.4375" stop-color="#959595"/>
<stop offset="0.6250" stop-color="#939393"/>
<stop offset="1.0000" stop-color="#919191"/>
</linearGradient>
<clipPath id="cg"><rect x="197.5" y="1214.2" width="571.1" height="252.9"/></clipPath>
<g filter="url(#fg)"><g clip-path="url(#cg)">
<rect x="197.5" y="1214.2" width="571.1" height="252.9" fill="url(#gg)"/>
<rect x="450.7" y="1324.9" width="41.9" height="71.1" fill="#787878" opacity="0.42" filter="url(#blb)"/>
<rect x="254.7" y="1324.9" width="133.3" height="47.4" fill="#878787" opacity="0.25" filter="url(#blb)"/>
<rect x="578.3" y="1340.7" width="57.1" height="47.4" fill="#878787" opacity="0.25" filter="url(#blb)"/>
<filter id="cng0" filterUnits="userSpaceOnUse" x="197.5" y="1396.0" width="571.1" height="71.1" color-interpolation-filters="sRGB"><feTurbulence type="fractalNoise" baseFrequency="0.24 0.38" numOctaves="2" seed="46"/><feColorMatrix type="matrix" values="0.8 0 0 0 0.260 0.8 0 0 0 0.260 0.8 0 0 0 0.260 0 0 0 0 1"/></filter>
<linearGradient id="cmg0" gradientUnits="userSpaceOnUse" x1="0" y1="1396.0" x2="0" y2="1467.2"><stop offset="0" stop-color="#000"/><stop offset="0.220" stop-color="#fff"/><stop offset="1" stop-color="#fff"/></linearGradient>
<mask id="ckg0" maskUnits="userSpaceOnUse" x="197.5" y="1396.0" width="571.1" height="71.1"><rect x="197.5" y="1396.0" width="571.1" height="71.1" fill="url(#cmg0)"/></mask>
<g mask="url(#ckg0)" opacity="0.28"><rect x="197.5" y="1396.0" width="571.1" height="71.1" fill="#888" filter="url(#cng0)"/></g>
<g filter="url(#bl)">
<rect x="212.0" y="1236.4" width="2.7" height="142.3" fill="#a3a3a3" opacity="0.17"/>
<rect x="238.6" y="1215.8" width="2.7" height="85.4" fill="#9e9e9e" opacity="0.15"/>
<rect x="251.6" y="1356.5" width="3.2" height="56.9" fill="#adadad" opacity="0.17"/>
<rect x="251.3" y="1380.2" width="4.4" height="33.2" fill="#cccccc" opacity="0.40"/>
<rect x="275.6" y="1215.8" width="3.4" height="188.1" fill="#adadad" opacity="0.25"/>
<rect x="275.5" y="1234.8" width="3.6" height="23.7" fill="#bfbfbf" opacity="0.29"/>
<rect x="275.5" y="1298.0" width="3.6" height="37.9" fill="#bfbfbf" opacity="0.27"/>
<rect x="275.5" y="1354.9" width="3.6" height="19.0" fill="#bfbfbf" opacity="0.29"/>
<rect x="304.7" y="1359.7" width="2.7" height="53.7" fill="#adadad" opacity="0.17"/>
<rect x="334.6" y="1215.8" width="3.2" height="194.4" fill="#adadad" opacity="0.19"/>
<rect x="346.4" y="1215.8" width="3.8" height="246.6" fill="#b8b8b8" opacity="0.27"/>
<rect x="345.9" y="1350.2" width="4.8" height="91.7" fill="#c7c7c7" opacity="0.36"/>
<rect x="346.3" y="1362.8" width="4.8" height="58.5" fill="#d4d4d4" opacity="0.40"/>
<rect x="354.0" y="1388.1" width="3.2" height="31.6" fill="#adadad" opacity="0.17"/>
<rect x="374.0" y="1215.8" width="2.7" height="101.2" fill="#a3a3a3" opacity="0.15"/>
<rect x="373.6" y="1354.9" width="3.6" height="39.5" fill="#b8b8b8" opacity="0.32"/>
<rect x="386.7" y="1269.6" width="2.5" height="110.6" fill="#a1a1a1" opacity="0.13"/>
<rect x="403.8" y="1253.8" width="2.5" height="110.6" fill="#a1a1a1" opacity="0.13"/>
<rect x="431.3" y="1261.7" width="2.3" height="110.6" fill="#9e9e9e" opacity="0.10"/>
<rect x="447.6" y="1215.8" width="2.5" height="53.7" fill="#a1a1a1" opacity="0.13"/>
<rect x="447.5" y="1400.8" width="2.7" height="25.3" fill="#adadad" opacity="0.17"/>
<rect x="489.1" y="1260.1" width="3.6" height="191.3" fill="#b5b5b5" opacity="0.25"/>
<rect x="488.8" y="1321.7" width="4.2" height="120.1" fill="#c4c4c4" opacity="0.34"/>
<rect x="512.6" y="1247.4" width="3.4" height="126.5" fill="#b3b3b3" opacity="0.23"/>
<rect x="512.6" y="1285.4" width="3.4" height="31.6" fill="#b5b5b5" opacity="0.21"/>
<rect x="519.8" y="1356.5" width="2.7" height="31.6" fill="#adadad" opacity="0.19"/>
<rect x="564.2" y="1215.8" width="3.8" height="226.0" fill="#b8b8b8" opacity="0.27"/>
<rect x="564.2" y="1231.6" width="3.8" height="33.2" fill="#bfbfbf" opacity="0.29"/>
<rect x="563.9" y="1354.9" width="4.8" height="58.5" fill="#d4d4d4" opacity="0.41"/>
<rect x="584.8" y="1261.7" width="3.4" height="148.6" fill="#adadad" opacity="0.21"/>
<rect x="584.5" y="1331.2" width="4.0" height="77.5" fill="#bfbfbf" opacity="0.32"/>
<rect x="593.2" y="1364.4" width="3.4" height="101.2" fill="#b2b2b2" opacity="0.25"/>
<rect x="606.5" y="1215.8" width="3.4" height="197.6" fill="#adadad" opacity="0.21"/>
<rect x="606.4" y="1282.2" width="3.6" height="39.5" fill="#b8b8b8" opacity="0.27"/>
<rect x="606.3" y="1364.4" width="3.8" height="49.0" fill="#bfbfbf" opacity="0.29"/>
<rect x="623.7" y="1293.3" width="2.5" height="94.8" fill="#a3a3a3" opacity="0.15"/>
<rect x="646.1" y="1324.9" width="3.4" height="88.5" fill="#b3b3b3" opacity="0.23"/>
<rect x="645.9" y="1353.3" width="3.8" height="23.7" fill="#bfbfbf" opacity="0.32"/>
<rect x="679.1" y="1238.0" width="2.5" height="86.9" fill="#a1a1a1" opacity="0.13"/>
<rect x="715.7" y="1215.8" width="3.8" height="203.9" fill="#b8b8b8" opacity="0.27"/>
<rect x="715.7" y="1242.7" width="3.8" height="23.7" fill="#bfbfbf" opacity="0.29"/>
<rect x="715.7" y="1309.1" width="3.8" height="45.8" fill="#bababa" opacity="0.25"/>
<rect x="715.4" y="1353.3" width="4.8" height="31.6" fill="#d4d4d4" opacity="0.41"/>
<rect x="715.7" y="1385.0" width="4.2" height="26.9" fill="#c4c4c4" opacity="0.34"/>
<rect x="732.7" y="1230.1" width="3.4" height="183.4" fill="#adadad" opacity="0.21"/>
<rect x="732.5" y="1331.2" width="3.8" height="79.0" fill="#bababa" opacity="0.29"/>
<rect x="204.7" y="1282.2" width="3.2" height="15.8" fill="#b0b0b0" opacity="0.23"/>
<rect x="236.2" y="1252.2" width="3.4" height="96.4" fill="#b0b0b0" opacity="0.17"/>
<rect x="236.1" y="1269.6" width="3.6" height="56.9" fill="#bababa" opacity="0.38"/>
<rect x="266.2" y="1255.3" width="2.7" height="61.6" fill="#a6a6a6" opacity="0.17"/>
<rect x="305.7" y="1217.4" width="3.4" height="162.8" fill="#b0b0b0" opacity="0.20"/>
<rect x="305.5" y="1242.7" width="3.8" height="94.8" fill="#bdbdbd" opacity="0.35"/>
<rect x="305.3" y="1279.1" width="4.2" height="42.7" fill="#c7c7c7" opacity="0.45"/>
<rect x="590.8" y="1282.2" width="3.2" height="15.8" fill="#b0b0b0" opacity="0.23"/>
<rect x="622.3" y="1252.2" width="3.4" height="96.4" fill="#b0b0b0" opacity="0.17"/>
<rect x="622.2" y="1269.6" width="3.6" height="56.9" fill="#bababa" opacity="0.38"/>
<rect x="652.3" y="1255.3" width="2.7" height="61.6" fill="#a6a6a6" opacity="0.17"/>
<rect x="691.8" y="1217.4" width="3.4" height="162.8" fill="#b0b0b0" opacity="0.20"/>
<rect x="691.6" y="1242.7" width="3.8" height="94.8" fill="#bdbdbd" opacity="0.35"/>
<rect x="691.4" y="1279.1" width="4.2" height="42.7" fill="#c7c7c7" opacity="0.45"/>
<rect x="416.8" y="1242.7" width="3.2" height="129.6" fill="#b0b0b0" opacity="0.17"/>
<rect x="416.5" y="1260.1" width="3.8" height="56.9" fill="#c4c4c4" opacity="0.42"/>
<rect x="513.9" y="1247.4" width="3.2" height="121.7" fill="#b0b0b0" opacity="0.17"/>
<rect x="513.7" y="1256.9" width="3.6" height="49.0" fill="#c4c4c4" opacity="0.40"/>
</g>
<g filter="url(#blh)" fill="none" stroke-linecap="round" stroke-linejoin="round">
<polyline points="230.9,1451.3 446.9,1451.0" stroke="#ededed" stroke-width="1.5" opacity="0.76"/>
<polyline points="230.9,1451.3 446.9,1451.0" stroke="#adadad" stroke-width="5.0" opacity="0.28"/>
<polyline points="230.9,1435.5 283.2,1435.2 321.3,1434.0 359.4,1433.0 397.4,1433.6 473.6,1434.9" stroke="#fafafa" stroke-width="2.0" opacity="0.78"/>
<polyline points="230.9,1435.5 283.2,1435.2 321.3,1434.0 359.4,1433.0 397.4,1433.6 473.6,1434.9" stroke="#b5b5b5" stroke-width="6.5" opacity="0.32"/>
<polyline points="230.9,1418.5 283.2,1417.8 330.8,1415.8 368.9,1414.5 407.0,1415.3" stroke="#dbdbdb" stroke-width="1.6" opacity="0.68"/>
<polyline points="230.9,1418.5 283.2,1417.8 330.8,1415.8 368.9,1414.5 407.0,1415.3" stroke="#adadad" stroke-width="5.5" opacity="0.28"/>
<polyline points="260.4,1402.3 292.7,1401.4 315.6,1400.0 338.4,1398.9" stroke="#bdbdbd" stroke-width="1.8" opacity="0.35"/>
<polyline points="287.0,1401.6 327.0,1399.5" stroke="#cfcfcf" stroke-width="2.2" opacity="0.31"/>
<polyline points="254.7,1370.4 285.1,1369.2 323.2,1367.1 340.3,1365.2" stroke="#afafaf" stroke-width="1.6" opacity="0.26"/>
<polyline points="285.1,1369.2 323.2,1367.1" stroke="#d4d4d4" stroke-width="2.2" opacity="0.35"/>
<polyline points="239.4,1354.1 283.2,1353.3 323.2,1351.0" stroke="#acacac" stroke-width="1.5" opacity="0.24"/>
<polyline points="287.0,1334.7 300.3,1334.1" stroke="#b2b2b2" stroke-width="1.8" opacity="0.29"/>
<polyline points="287.0,1319.2 298.4,1318.6" stroke="#b1b1b1" stroke-width="1.6" opacity="0.26"/>
<polyline points="327.0,1315.4 340.3,1315.1" stroke="#b1b1b1" stroke-width="1.6" opacity="0.26"/>
<polyline points="235.6,1304.3 256.6,1304.3" stroke="#b1b1b1" stroke-width="1.6" opacity="0.26"/>
<polyline points="281.3,1304.3 298.4,1301.5" stroke="#b2b2b2" stroke-width="1.6" opacity="0.29"/>
<polyline points="323.2,1296.4 342.2,1296.4" stroke="#b1b1b1" stroke-width="1.6" opacity="0.26"/>
<polyline points="252.8,1285.1 262.3,1287.3 273.7,1288.5 287.0,1286.6 302.3,1282.5 317.5,1279.7 334.6,1278.7 346.0,1277.5" stroke="#b8b8b8" stroke-width="1.8" opacity="0.35"/>
<polyline points="323.2,1261.7 349.8,1261.7" stroke="#a7a7a7" stroke-width="1.5" opacity="0.22"/>
<polyline points="619.8,1451.3 770.2,1451.0" stroke="#ededed" stroke-width="1.5" opacity="0.76"/>
<polyline points="619.8,1451.3 770.2,1451.0" stroke="#adadad" stroke-width="5.0" opacity="0.28"/>
<polyline points="619.8,1435.5 669.3,1435.2 707.4,1433.6 745.4,1432.1 770.2,1431.1" stroke="#fafafa" stroke-width="2.0" opacity="0.78"/>
<polyline points="619.8,1435.5 669.3,1435.2 707.4,1433.6 745.4,1432.1 770.2,1431.1" stroke="#b5b5b5" stroke-width="6.5" opacity="0.32"/>
<polyline points="619.8,1418.5 669.3,1417.8 716.9,1415.8 770.2,1412.6" stroke="#dbdbdb" stroke-width="1.6" opacity="0.68"/>
<polyline points="619.8,1418.5 669.3,1417.8 716.9,1415.8 770.2,1412.6" stroke="#adadad" stroke-width="5.5" opacity="0.28"/>
<polyline points="646.4,1402.3 678.8,1401.4 701.6,1400.0 724.5,1398.9" stroke="#bdbdbd" stroke-width="1.8" opacity="0.35"/>
<polyline points="673.1,1401.6 713.1,1399.5" stroke="#cfcfcf" stroke-width="2.2" opacity="0.31"/>
<polyline points="640.7,1370.4 671.2,1369.2 709.3,1367.1 726.4,1365.2" stroke="#afafaf" stroke-width="1.6" opacity="0.26"/>
<polyline points="671.2,1369.2 709.3,1367.1" stroke="#d4d4d4" stroke-width="2.2" opacity="0.35"/>
<polyline points="625.5,1354.1 669.3,1353.3 709.3,1351.0" stroke="#acacac" stroke-width="1.5" opacity="0.24"/>
<polyline points="673.1,1334.7 686.4,1334.1" stroke="#b2b2b2" stroke-width="1.8" opacity="0.29"/>
<polyline points="673.1,1319.2 684.5,1318.6" stroke="#b1b1b1" stroke-width="1.6" opacity="0.26"/>
<polyline points="713.1,1315.4 726.4,1315.1" stroke="#b1b1b1" stroke-width="1.6" opacity="0.26"/>
<polyline points="621.7,1304.3 642.6,1304.3" stroke="#b1b1b1" stroke-width="1.6" opacity="0.26"/>
<polyline points="667.4,1304.3 684.5,1301.5" stroke="#b2b2b2" stroke-width="1.6" opacity="0.29"/>
<polyline points="709.3,1296.4 728.3,1296.4" stroke="#b1b1b1" stroke-width="1.6" opacity="0.26"/>
<polyline points="638.8,1285.1 648.3,1287.3 659.8,1288.5 673.1,1286.6 688.3,1282.5 703.5,1279.7 720.7,1278.7 732.1,1277.5" stroke="#b8b8b8" stroke-width="1.8" opacity="0.35"/>
<polyline points="709.3,1261.7 735.9,1261.7" stroke="#a7a7a7" stroke-width="1.5" opacity="0.22"/>
</g>
</g></g>
<rect x="197.55" y="1214.25" width="571.10" height="252.90" fill="none" stroke="#231f20" stroke-width="2.9"/>
<path d="M292.7 1468.6V1453.6M387.9 1468.6V1453.6M483.1 1468.6V1453.6M578.3 1468.6V1453.6M673.5 1468.6V1453.6M196.1 1388.1H211.1M196.1 1309.1H211.1M196.1 1230.1H211.1" stroke="#231f20" stroke-width="2.8" fill="none"/>
<text x="179.8" y="1480.8" font-size="54" text-anchor="end">0</text>
<text x="179.8" y="1401.7" font-size="54" text-anchor="end">5</text>
<text x="179.8" y="1322.7" font-size="54" text-anchor="end">10</text>
<text x="179.8" y="1243.7" font-size="54" text-anchor="end">15</text>
<text x="196.8" y="1524.9" font-size="54" text-anchor="middle">0</text>
<text x="291.9" y="1524.9" font-size="54" text-anchor="middle">0.5</text>
<text x="387.1" y="1524.9" font-size="54" text-anchor="middle">1.0</text>
<text x="482.3" y="1524.9" font-size="54" text-anchor="middle">1.5</text>
<text x="577.5" y="1524.9" font-size="54" text-anchor="middle">2.0</text>
<text x="672.7" y="1524.9" font-size="54" text-anchor="middle">2.5</text>
<text x="767.8" y="1524.9" font-size="54" text-anchor="middle">3.0</text>
<text x="196.4" y="1195.8" font-size="54" letter-spacing="0.3">×10<tspan font-size="33" dy="-17.7">3</tspan></text>
<text transform="translate(100.1 1340.2) rotate(-90)" font-size="56" text-anchor="middle">频率/kHz</text>
<text x="481.8" y="1586.6" font-size="56" text-anchor="middle">时间/s</text>
<text x="479.8" y="1656.4" font-size="55.5" text-anchor="middle">(g) DPTNet分离虎鲸音频</text>
<rect x="782.0" y="1210.9" width="13.8" height="257.6" fill="url(#cb)" stroke="#2a2226" stroke-width="0.8"/>
<path d="M795.8 1252.3h3.2M795.8 1307.5h3.2M795.8 1362.7h3.2M795.8 1417.3h3.2" stroke="#231f20" stroke-width="1" fill="none"/>
<text x="801.8" y="1265.7" font-size="54">−<tspan dx="-1.6">20</tspan></text>
<text x="801.8" y="1321.9" font-size="54">−<tspan dx="-1.6">40</tspan></text>
<text x="801.8" y="1377.0" font-size="54">−<tspan dx="-1.6">60</tspan></text>
<text x="801.8" y="1434.2" font-size="54">−<tspan dx="-1.6">80</tspan></text>
<text transform="translate(950.2 1341.7) rotate(-90)" font-size="54" text-anchor="middle">强度/dB</text>
<filter id="fh" filterUnits="userSpaceOnUse" x="1276.7" y="1213.5" width="571.1" height="252.9" color-interpolation-filters="sRGB">
<feTurbulence type="fractalNoise" baseFrequency="0.30 0.40" numOctaves="2" seed="17" result="n"/>
<feColorMatrix in="n" type="matrix" values="1 0 0 0 0 1 0 0 0 0 1 0 0 0 0 0 0 0 0 1" result="g"/>
<feComposite in="SourceGraphic" in2="g" operator="arithmetic" k1="0" k2="1" k3="0.2" k4="-0.100" result="v1"/>
<feTurbulence type="fractalNoise" baseFrequency="0.22 0.012" numOctaves="1" seed="24" result="m"/>
<feColorMatrix in="m" type="matrix" values="1 0 0 0 0 1 0 0 0 0 1 0 0 0 0 0 0 0 0 1" result="mg"/>
<feComposite in="v1" in2="mg" operator="arithmetic" k1="0" k2="1" k3="0.08" k4="-0.040" result="v"/>
<feComponentTransfer in="v"><feFuncR type="table" tableValues="0.227 0.235 0.242 0.250 0.257 0.264 0.272 0.281 0.291 0.301 0.311 0.308 0.301 0.294 0.286 0.277 0.269 0.276 0.283 0.290 0.305 0.322 0.339 0.361 0.384 0.408 0.431 0.454 0.485 0.514 0.542 0.567 0.591 0.634 0.677 0.720 0.766 0.814 0.844 0.873 0.902 0.914 0.919 0.923 0.922 0.913 0.904 0.895 0.886 0.866 0.846 0.827 0.807 0.787 0.758 0.728 0.698 0.668 0.638 0.608 0.572 0.537 0.502 0.467 0.431"/><feFuncG type="table" tableValues="0.165 0.192 0.219 0.246 0.282 0.322 0.361 0.396 0.429 0.461 0.494 0.536 0.580 0.624 0.650 0.663 0.676 0.681 0.687 0.693 0.696 0.698 0.700 0.707 0.717 0.727 0.737 0.747 0.760 0.772 0.784 0.795 0.805 0.816 0.828 0.840 0.810 0.769 0.728 0.688 0.647 0.601 0.553 0.506 0.463 0.425 0.388 0.351 0.314 0.296 0.277 0.259 0.240 0.222 0.211 0.202 0.192 0.183 0.173 0.164 0.158 0.152 0.146 0.139 0.133"/><feFuncB type="table" tableValues="0.376 0.448 0.519 0.590 0.625 0.652 0.679 0.705 0.729 0.754 0.778 0.799 0.819 0.839 0.820 0.771 0.723 0.674 0.627 0.580 0.542 0.507 0.473 0.444 0.419 0.395 0.371 0.350 0.348 0.345 0.340 0.332 0.321 0.311 0.300 0.287 0.284 0.283 0.277 0.270 0.265 0.254 0.241 0.229 0.218 0.206 0.195 0.184 0.173 0.173 0.173 0.173 0.173 0.173 0.174 0.175 0.176 0.178 0.179 0.181 0.182 0.184 0.185 0.187 0.188"/></feComponentTransfer>
</filter>
<linearGradient id="gh" x1="0" y1="1" x2="0" y2="0">
<stop offset="0.0000" stop-color="#8f8f8f"/>
<stop offset="0.0187" stop-color="#8a8a8a"/>
<stop offset="0.0875" stop-color="#858585"/>
<stop offset="0.1750" stop-color="#828282"/>
<stop offset="0.2062" stop-color="#787878"/>
<stop offset="0.2250" stop-color="#707070"/>
<stop offset="0.2812" stop-color="#787878"/>
<stop offset="0.3750" stop-color="#7e7e7e"/>
<stop offset="0.6250" stop-color="#808080"/>
<stop offset="0.7188" stop-color="#7a7a7a"/>
<stop offset="0.7688" stop-color="#707070"/>
<stop offset="0.8125" stop-color="#636363"/>
<stop offset="0.8500" stop-color="#525252"/>
<stop offset="0.8938" stop-color="#454545"/>
<stop offset="1.0000" stop-color="#3b3b3b"/>
</linearGradient>
<clipPath id="ch"><rect x="1276.7" y="1213.5" width="571.1" height="252.9"/></clipPath>
<g filter="url(#fh)"><g clip-path="url(#ch)">
<rect x="1276.7" y="1213.5" width="571.1" height="252.9" fill="url(#gh)"/>
<rect x="1328.0" y="1324.1" width="24.7" height="88.5" fill="#5c5c5c" opacity="0.5" filter="url(#blb)"/>
<rect x="1428.9" y="1245.1" width="28.6" height="71.1" fill="#4c4c4c" opacity="0.4" filter="url(#blb)"/>
<rect x="1642.2" y="1216.6" width="38.1" height="194.4" fill="#545454" opacity="0.5" filter="url(#blb)"/>
<rect x="1314.7" y="1400.0" width="190.4" height="12.6" fill="#5c5c5c" opacity="0.35" filter="url(#blb)"/>
<rect x="1467.0" y="1445.8" width="171.3" height="20.5" fill="#9e9e9e" opacity="0.35" filter="url(#blb)"/>
<filter id="cnh0" filterUnits="userSpaceOnUse" x="1276.7" y="1414.2" width="571.1" height="52.2" color-interpolation-filters="sRGB"><feTurbulence type="fractalNoise" baseFrequency="0.24 0.38" numOctaves="2" seed="48"/><feColorMatrix type="matrix" values="0.7 0 0 0 0.170 0.7 0 0 0 0.170 0.7 0 0 0 0.170 0 0 0 0 1"/></filter>
<linearGradient id="cmh0" gradientUnits="userSpaceOnUse" x1="0" y1="1414.2" x2="0" y2="1466.4"><stop offset="0" stop-color="#000"/><stop offset="0.220" stop-color="#fff"/><stop offset="1" stop-color="#fff"/></linearGradient>
<mask id="ckh0" maskUnits="userSpaceOnUse" x="1276.7" y="1414.2" width="571.1" height="52.2"><rect x="1276.7" y="1414.2" width="571.1" height="52.2" fill="url(#cmh0)"/></mask>
<g mask="url(#ckh0)" opacity="0.3"><rect x="1276.7" y="1414.2" width="571.1" height="52.2" fill="#888" filter="url(#cnh0)"/></g>
<filter id="cnh1" filterUnits="userSpaceOnUse" x="1276.7" y="1213.5" width="571.1" height="53.7" color-interpolation-filters="sRGB"><feTurbulence type="fractalNoise" baseFrequency="0.14 0.30" numOctaves="2" seed="49"/><feColorMatrix type="matrix" values="0.7 0 0 0 -0.150 0.7 0 0 0 -0.150 0.7 0 0 0 -0.150 0 0 0 0 1"/></filter>
<linearGradient id="cmh1" gradientUnits="userSpaceOnUse" x1="0" y1="1213.5" x2="0" y2="1267.2"><stop offset="0" stop-color="#fff"/><stop offset="0.45" stop-color="#fff"/><stop offset="1" stop-color="#000"/></linearGradient>
<mask id="ckh1" maskUnits="userSpaceOnUse" x="1276.7" y="1213.5" width="571.1" height="53.7"><rect x="1276.7" y="1213.5" width="571.1" height="53.7" fill="url(#cmh1)"/></mask>
<g mask="url(#ckh1)" opacity="0.35"><rect x="1276.7" y="1213.5" width="571.1" height="53.7" fill="#888" filter="url(#cnh1)"/></g>
<g filter="url(#bl)">
<rect x="1283.8" y="1281.4" width="3.2" height="15.8" fill="#9e9e9e" opacity="0.20"/>
<rect x="1315.3" y="1251.4" width="3.4" height="96.4" fill="#9e9e9e" opacity="0.16"/>
<rect x="1315.2" y="1268.8" width="3.6" height="56.9" fill="#a8a8a8" opacity="0.34"/>
<rect x="1345.3" y="1254.5" width="2.7" height="61.6" fill="#949494" opacity="0.16"/>
<rect x="1384.8" y="1216.6" width="3.4" height="162.8" fill="#9e9e9e" opacity="0.18"/>
<rect x="1384.6" y="1241.9" width="3.8" height="94.8" fill="#ababab" opacity="0.32"/>
<rect x="1384.4" y="1278.3" width="4.2" height="42.7" fill="#adadad" opacity="0.41"/>
<rect x="1669.9" y="1281.4" width="3.2" height="15.8" fill="#9e9e9e" opacity="0.20"/>
<rect x="1701.4" y="1251.4" width="3.4" height="96.4" fill="#9e9e9e" opacity="0.16"/>
<rect x="1701.3" y="1268.8" width="3.6" height="56.9" fill="#a8a8a8" opacity="0.34"/>
<rect x="1731.4" y="1254.5" width="2.7" height="61.6" fill="#949494" opacity="0.16"/>
<rect x="1770.9" y="1216.6" width="3.4" height="162.8" fill="#9e9e9e" opacity="0.18"/>
<rect x="1770.7" y="1241.9" width="3.8" height="94.8" fill="#ababab" opacity="0.32"/>
<rect x="1770.5" y="1278.3" width="4.2" height="42.7" fill="#adadad" opacity="0.41"/>
<rect x="1495.9" y="1241.9" width="3.2" height="129.6" fill="#9e9e9e" opacity="0.16"/>
<rect x="1495.6" y="1259.3" width="3.8" height="56.9" fill="#b2b2b2" opacity="0.38"/>
<rect x="1593.0" y="1246.6" width="3.2" height="121.7" fill="#9e9e9e" opacity="0.16"/>
<rect x="1592.8" y="1256.1" width="3.6" height="49.0" fill="#b2b2b2" opacity="0.36"/>
<rect x="1435.0" y="1387.3" width="3.2" height="39.5" fill="#9e9e9e" opacity="0.50"/>
<rect x="1670.8" y="1409.4" width="3.7" height="52.2" fill="#a8a8a8" opacity="0.60"/>
</g>
<g filter="url(#blh)" fill="none" stroke-linecap="round" stroke-linejoin="round">
<polyline points="1310.0,1450.5 1526.0,1450.2" stroke="#ededed" stroke-width="2.0250000000000004" opacity="0.95"/>
<polyline points="1310.0,1450.5 1526.0,1450.2" stroke="#adadad" stroke-width="6.75" opacity="0.35"/>
<polyline points="1310.0,1434.7 1362.3,1434.4 1400.4,1433.2 1438.5,1432.2 1476.5,1432.8 1552.7,1434.1" stroke="#fafafa" stroke-width="2.7" opacity="0.97"/>
<polyline points="1310.0,1434.7 1362.3,1434.4 1400.4,1433.2 1438.5,1432.2 1476.5,1432.8 1552.7,1434.1" stroke="#b5b5b5" stroke-width="8.775" opacity="0.40"/>
<polyline points="1310.0,1417.7 1362.3,1417.0 1409.9,1415.0 1448.0,1413.7 1486.1,1414.5" stroke="#dbdbdb" stroke-width="2.16" opacity="0.85"/>
<polyline points="1310.0,1417.7 1362.3,1417.0 1409.9,1415.0 1448.0,1413.7 1486.1,1414.5" stroke="#adadad" stroke-width="7.425000000000001" opacity="0.35"/>
<polyline points="1339.5,1401.5 1371.8,1400.6 1394.7,1399.2 1417.5,1398.1" stroke="#bdbdbd" stroke-width="1.8" opacity="0.36"/>
<polyline points="1366.1,1400.8 1406.1,1398.7" stroke="#cfcfcf" stroke-width="2.2" opacity="0.32"/>
<polyline points="1333.8,1369.6 1364.2,1368.4 1402.3,1366.3 1419.4,1364.4" stroke="#afafaf" stroke-width="1.6" opacity="0.27"/>
<polyline points="1364.2,1368.4 1402.3,1366.3" stroke="#d4d4d4" stroke-width="2.2" opacity="0.36"/>
<polyline points="1318.5,1353.3 1362.3,1352.5 1402.3,1350.2" stroke="#acacac" stroke-width="1.5" opacity="0.25"/>
<polyline points="1366.1,1333.9 1379.4,1333.3" stroke="#b2b2b2" stroke-width="1.8" opacity="0.29"/>
<polyline points="1366.1,1318.4 1377.5,1317.8" stroke="#b1b1b1" stroke-width="1.6" opacity="0.27"/>
<polyline points="1406.1,1314.6 1419.4,1314.3" stroke="#b1b1b1" stroke-width="1.6" opacity="0.27"/>
<polyline points="1314.7,1303.5 1335.7,1303.5" stroke="#b1b1b1" stroke-width="1.6" opacity="0.27"/>
<polyline points="1360.4,1303.5 1377.5,1300.7" stroke="#b2b2b2" stroke-width="1.6" opacity="0.29"/>
<polyline points="1402.3,1295.6 1421.3,1295.6" stroke="#b1b1b1" stroke-width="1.6" opacity="0.27"/>
<polyline points="1331.9,1284.3 1341.4,1286.5 1352.8,1287.7 1366.1,1285.8 1381.4,1281.7 1396.6,1278.9 1413.7,1277.9 1425.1,1276.7" stroke="#b8b8b8" stroke-width="1.8" opacity="0.36"/>
<polyline points="1402.3,1260.9 1428.9,1260.9" stroke="#a7a7a7" stroke-width="1.5" opacity="0.23"/>
<polyline points="1698.9,1450.5 1849.3,1450.2" stroke="#ededed" stroke-width="2.0250000000000004" opacity="0.95"/>
<polyline points="1698.9,1450.5 1849.3,1450.2" stroke="#adadad" stroke-width="6.75" opacity="0.35"/>
<polyline points="1698.9,1434.7 1748.4,1434.4 1786.5,1432.8 1824.5,1431.3 1849.3,1430.3" stroke="#fafafa" stroke-width="2.7" opacity="0.97"/>
<polyline points="1698.9,1434.7 1748.4,1434.4 1786.5,1432.8 1824.5,1431.3 1849.3,1430.3" stroke="#b5b5b5" stroke-width="8.775" opacity="0.40"/>
<polyline points="1698.9,1417.7 1748.4,1417.0 1796.0,1415.0 1849.3,1411.8" stroke="#dbdbdb" stroke-width="2.16" opacity="0.85"/>
<polyline points="1698.9,1417.7 1748.4,1417.0 1796.0,1415.0 1849.3,1411.8" stroke="#adadad" stroke-width="7.425000000000001" opacity="0.35"/>
<polyline points="1725.5,1401.5 1757.9,1400.6 1780.7,1399.2 1803.6,1398.1" stroke="#bdbdbd" stroke-width="1.8" opacity="0.36"/>
<polyline points="1752.2,1400.8 1792.2,1398.7" stroke="#cfcfcf" stroke-width="2.2" opacity="0.32"/>
<polyline points="1719.8,1369.6 1750.3,1368.4 1788.4,1366.3 1805.5,1364.4" stroke="#afafaf" stroke-width="1.6" opacity="0.27"/>
<polyline points="1750.3,1368.4 1788.4,1366.3" stroke="#d4d4d4" stroke-width="2.2" opacity="0.36"/>
<polyline points="1704.6,1353.3 1748.4,1352.5 1788.4,1350.2" stroke="#acacac" stroke-width="1.5" opacity="0.25"/>
<polyline points="1752.2,1333.9 1765.5,1333.3" stroke="#b2b2b2" stroke-width="1.8" opacity="0.29"/>
<polyline points="1752.2,1318.4 1763.6,1317.8" stroke="#b1b1b1" stroke-width="1.6" opacity="0.27"/>
<polyline points="1792.2,1314.6 1805.5,1314.3" stroke="#b1b1b1" stroke-width="1.6" opacity="0.27"/>
<polyline points="1700.8,1303.5 1721.7,1303.5" stroke="#b1b1b1" stroke-width="1.6" opacity="0.27"/>
<polyline points="1746.5,1303.5 1763.6,1300.7" stroke="#b2b2b2" stroke-width="1.6" opacity="0.29"/>
<polyline points="1788.4,1295.6 1807.4,1295.6" stroke="#b1b1b1" stroke-width="1.6" opacity="0.27"/>
<polyline points="1717.9,1284.3 1727.4,1286.5 1738.9,1287.7 1752.2,1285.8 1767.4,1281.7 1782.6,1278.9 1799.8,1277.9 1811.2,1276.7" stroke="#b8b8b8" stroke-width="1.8" opacity="0.36"/>
<polyline points="1788.4,1260.9 1815.0,1260.9" stroke="#a7a7a7" stroke-width="1.5" opacity="0.23"/>
<polyline points="1571.7,1434.1 1638.3,1434.1" stroke="#c7c7c7" stroke-width="2.6" opacity="0.70"/>
</g>
</g></g>
<rect x="1276.65" y="1213.45" width="571.10" height="252.90" fill="none" stroke="#231f20" stroke-width="2.9"/>
<path d="M1371.8 1467.8V1452.8M1467.0 1467.8V1452.8M1562.2 1467.8V1452.8M1657.4 1467.8V1452.8M1752.6 1467.8V1452.8M1275.2 1387.3H1290.2M1275.2 1308.3H1290.2M1275.2 1229.3H1290.2" stroke="#231f20" stroke-width="2.8" fill="none"/>
<text x="1259.7" y="1480.8" font-size="54" text-anchor="end">0</text>
<text x="1259.7" y="1401.7" font-size="54" text-anchor="end">5</text>
<text x="1259.7" y="1322.7" font-size="54" text-anchor="end">10</text>
<text x="1259.7" y="1243.7" font-size="54" text-anchor="end">15</text>
<text x="1276.7" y="1524.9" font-size="54" text-anchor="middle">0</text>
<text x="1371.8" y="1524.9" font-size="54" text-anchor="middle">0.5</text>
<text x="1467.0" y="1524.9" font-size="54" text-anchor="middle">1.0</text>
<text x="1562.2" y="1524.9" font-size="54" text-anchor="middle">1.5</text>
<text x="1657.4" y="1524.9" font-size="54" text-anchor="middle">2.0</text>
<text x="1752.6" y="1524.9" font-size="54" text-anchor="middle">2.5</text>
<text x="1847.8" y="1524.9" font-size="54" text-anchor="middle">3.0</text>
<text x="1276.3" y="1195.8" font-size="54" letter-spacing="0.3">×10<tspan font-size="33" dy="-17.7">3</tspan></text>
<text transform="translate(1180.0 1340.2) rotate(-90)" font-size="56" text-anchor="middle">频率/kHz</text>
<text x="1561.7" y="1586.6" font-size="56" text-anchor="middle">时间/s</text>
<text x="1559.7" y="1656.4" font-size="55.5" text-anchor="middle">(h) TDANet分离虎鲸音频</text>
<rect x="1860.3" y="1213.4" width="13.8" height="253.3" fill="url(#cb)" stroke="#2a2226" stroke-width="0.8"/>
<path d="M1874.1 1233.1h3.2M1874.1 1295.0h3.2M1874.1 1356.7h3.2M1874.1 1417.8h3.2" stroke="#231f20" stroke-width="1" fill="none"/>
<text x="1880.8" y="1250.7" font-size="54">−<tspan dx="-1.6">25</tspan></text>
<text x="1880.8" y="1311.4" font-size="54">−<tspan dx="-1.6">50</tspan></text>
<text x="1880.8" y="1374.5" font-size="54">−<tspan dx="-1.6">75</tspan></text>
<text x="1880.8" y="1435.6" font-size="54">−<tspan dx="-1.6">100</tspan></text>
<text transform="translate(2046.9 1341.7) rotate(-90)" font-size="54" text-anchor="middle">强度/dB</text>
<filter id="fi" filterUnits="userSpaceOnUse" x="2314.6" y="1214.2" width="571.1" height="252.9" color-interpolation-filters="sRGB">
<feTurbulence type="fractalNoise" baseFrequency="0.30 0.40" numOctaves="2" seed="19" result="n"/>
<feColorMatrix in="n" type="matrix" values="1 0 0 0 0 1 0 0 0 0 1 0 0 0 0 0 0 0 0 1" result="g"/>
<feComposite in="SourceGraphic" in2="g" operator="arithmetic" k1="0" k2="1" k3="0.2" k4="-0.100" result="v1"/>
<feTurbulence type="fractalNoise" baseFrequency="0.22 0.012" numOctaves="1" seed="26" result="m"/>
<feColorMatrix in="m" type="matrix" values="1 0 0 0 0 1 0 0 0 0 1 0 0 0 0 0 0 0 0 1" result="mg"/>
<feComposite in="v1" in2="mg" operator="arithmetic" k1="0" k2="1" k3="0.08" k4="-0.040" result="v"/>
<feComponentTransfer in="v"><feFuncR type="table" tableValues="0.227 0.235 0.242 0.250 0.257 0.264 0.272 0.281 0.291 0.301 0.311 0.308 0.301 0.294 0.286 0.277 0.269 0.276 0.283 0.290 0.305 0.322 0.339 0.361 0.384 0.408 0.431 0.454 0.485 0.514 0.542 0.567 0.591 0.634 0.677 0.720 0.766 0.814 0.844 0.873 0.902 0.914 0.919 0.923 0.922 0.913 0.904 0.895 0.886 0.866 0.846 0.827 0.807 0.787 0.758 0.728 0.698 0.668 0.638 0.608 0.572 0.537 0.502 0.467 0.431"/><feFuncG type="table" tableValues="0.165 0.192 0.219 0.246 0.282 0.322 0.361 0.396 0.429 0.461 0.494 0.536 0.580 0.624 0.650 0.663 0.676 0.681 0.687 0.693 0.696 0.698 0.700 0.707 0.717 0.727 0.737 0.747 0.760 0.772 0.784 0.795 0.805 0.816 0.828 0.840 0.810 0.769 0.728 0.688 0.647 0.601 0.553 0.506 0.463 0.425 0.388 0.351 0.314 0.296 0.277 0.259 0.240 0.222 0.211 0.202 0.192 0.183 0.173 0.164 0.158 0.152 0.146 0.139 0.133"/><feFuncB type="table" tableValues="0.376 0.448 0.519 0.590 0.625 0.652 0.679 0.705 0.729 0.754 0.778 0.799 0.819 0.839 0.820 0.771 0.723 0.674 0.627 0.580 0.542 0.507 0.473 0.444 0.419 0.395 0.371 0.350 0.348 0.345 0.340 0.332 0.321 0.311 0.300 0.287 0.284 0.283 0.277 0.270 0.265 0.254 0.241 0.229 0.218 0.206 0.195 0.184 0.173 0.173 0.173 0.173 0.173 0.173 0.174 0.175 0.176 0.178 0.179 0.181 0.182 0.184 0.185 0.187 0.188"/></feComponentTransfer>
</filter>
<linearGradient id="gi" x1="0" y1="1" x2="0" y2="0">
<stop offset="0.0000" stop-color="#cccccc"/>
<stop offset="0.0125" stop-color="#bfbfbf"/>
<stop offset="0.0225" stop-color="#8f8f8f"/>
<stop offset="0.0312" stop-color="#858585"/>
<stop offset="0.0625" stop-color="#828282"/>
<stop offset="0.1750" stop-color="#878787"/>
<stop offset="0.2062" stop-color="#828282"/>
<stop offset="0.2250" stop-color="#7a7a7a"/>
<stop offset="0.5000" stop-color="#7a7a7a"/>
<stop offset="0.7500" stop-color="#797979"/>
<stop offset="0.8750" stop-color="#747474"/>
<stop offset="1.0000" stop-color="#707070"/>
</linearGradient>
<clipPath id="ci"><rect x="2314.6" y="1214.2" width="571.1" height="252.9"/></clipPath>
<g filter="url(#fi)"><g clip-path="url(#ci)">
<rect x="2314.6" y="1214.2" width="571.1" height="252.9" fill="url(#gi)"/>
<rect x="2605.9" y="1220.6" width="13.3" height="215.0" fill="#545454" opacity="0.6" filter="url(#blb)"/>
<rect x="2463.1" y="1220.6" width="22.8" height="88.5" fill="#595959" opacity="0.4" filter="url(#blb)"/>
<rect x="2704.9" y="1245.9" width="28.6" height="158.1" fill="#616161" opacity="0.35" filter="url(#blb)"/>
<filter id="cni0" filterUnits="userSpaceOnUse" x="2314.6" y="1415.0" width="571.1" height="52.2" color-interpolation-filters="sRGB"><feTurbulence type="fractalNoise" baseFrequency="0.24 0.38" numOctaves="2" seed="50"/><feColorMatrix type="matrix" values="0.7 0 0 0 0.170 0.7 0 0 0 0.170 0.7 0 0 0 0.170 0 0 0 0 1"/></filter>
<linearGradient id="cmi0" gradientUnits="userSpaceOnUse" x1="0" y1="1415.0" x2="0" y2="1467.2"><stop offset="0" stop-color="#000"/><stop offset="0.220" stop-color="#fff"/><stop offset="1" stop-color="#fff"/></linearGradient>
<mask id="cki0" maskUnits="userSpaceOnUse" x="2314.6" y="1415.0" width="571.1" height="52.2"><rect x="2314.6" y="1415.0" width="571.1" height="52.2" fill="url(#cmi0)"/></mask>
<g mask="url(#cki0)" opacity="0.3"><rect x="2314.6" y="1415.0" width="571.1" height="52.2" fill="#888" filter="url(#cni0)"/></g>
<g filter="url(#bl)">
<rect x="2321.8" y="1282.2" width="3.2" height="15.8" fill="#aaaaaa" opacity="0.29"/>
<rect x="2353.3" y="1252.2" width="3.4" height="96.4" fill="#aaaaaa" opacity="0.23"/>
<rect x="2353.2" y="1269.6" width="3.6" height="56.9" fill="#b4b4b4" opacity="0.49"/>
<rect x="2383.3" y="1255.3" width="2.7" height="61.6" fill="#9f9f9f" opacity="0.23"/>
<rect x="2422.8" y="1217.4" width="3.4" height="162.8" fill="#aaaaaa" opacity="0.26"/>
<rect x="2422.6" y="1242.7" width="3.8" height="94.8" fill="#b6b6b6" opacity="0.45"/>
<rect x="2422.4" y="1279.1" width="4.2" height="42.7" fill="#cccccc" opacity="0.59"/>
<rect x="2707.9" y="1282.2" width="3.2" height="15.8" fill="#aaaaaa" opacity="0.29"/>
<rect x="2739.4" y="1252.2" width="3.4" height="96.4" fill="#aaaaaa" opacity="0.23"/>
<rect x="2739.3" y="1269.6" width="3.6" height="56.9" fill="#b4b4b4" opacity="0.49"/>
<rect x="2769.4" y="1255.3" width="2.7" height="61.6" fill="#9f9f9f" opacity="0.23"/>
<rect x="2808.9" y="1217.4" width="3.4" height="162.8" fill="#aaaaaa" opacity="0.26"/>
<rect x="2808.7" y="1242.7" width="3.8" height="94.8" fill="#b6b6b6" opacity="0.45"/>
<rect x="2808.5" y="1279.1" width="4.2" height="42.7" fill="#cccccc" opacity="0.59"/>
<rect x="2533.9" y="1242.7" width="3.2" height="129.6" fill="#aaaaaa" opacity="0.23"/>
<rect x="2533.6" y="1260.1" width="3.8" height="56.9" fill="#bebebe" opacity="0.55"/>
<rect x="2631.0" y="1247.4" width="3.2" height="121.7" fill="#aaaaaa" opacity="0.23"/>
<rect x="2630.8" y="1256.9" width="3.6" height="49.0" fill="#bebebe" opacity="0.52"/>
<rect x="2465.6" y="1388.1" width="2.6" height="31.6" fill="#999999" opacity="0.50"/>
</g>
<g filter="url(#blh)" fill="none" stroke-linecap="round" stroke-linejoin="round">
<polyline points="2348.0,1451.3 2564.0,1451.0" stroke="#ededed" stroke-width="1.7249999999999999" opacity="0.95"/>
<polyline points="2348.0,1451.3 2564.0,1451.0" stroke="#adadad" stroke-width="5.75" opacity="0.35"/>
<polyline points="2348.0,1435.5 2400.3,1435.2 2438.4,1434.0 2476.5,1433.0 2514.5,1433.6 2590.7,1434.9" stroke="#fafafa" stroke-width="2.3" opacity="0.97"/>
<polyline points="2348.0,1435.5 2400.3,1435.2 2438.4,1434.0 2476.5,1433.0 2514.5,1433.6 2590.7,1434.9" stroke="#b5b5b5" stroke-width="7.475" opacity="0.40"/>
<polyline points="2348.0,1418.5 2400.3,1417.8 2447.9,1415.8 2486.0,1414.5 2524.1,1415.3" stroke="#dbdbdb" stroke-width="1.8399999999999999" opacity="0.85"/>
<polyline points="2348.0,1418.5 2400.3,1417.8 2447.9,1415.8 2486.0,1414.5 2524.1,1415.3" stroke="#adadad" stroke-width="6.324999999999999" opacity="0.35"/>
<polyline points="2377.5,1402.3 2409.8,1401.4 2432.7,1400.0 2455.5,1398.9" stroke="#bdbdbd" stroke-width="1.8" opacity="0.40"/>
<polyline points="2404.1,1401.6 2444.1,1399.5" stroke="#cfcfcf" stroke-width="2.2" opacity="0.35"/>
<polyline points="2371.8,1370.4 2402.2,1369.2 2440.3,1367.1 2457.4,1365.2" stroke="#afafaf" stroke-width="1.6" opacity="0.30"/>
<polyline points="2402.2,1369.2 2440.3,1367.1" stroke="#d4d4d4" stroke-width="2.2" opacity="0.40"/>
<polyline points="2356.5,1354.1 2400.3,1353.3 2440.3,1351.0" stroke="#acacac" stroke-width="1.5" opacity="0.28"/>
<polyline points="2404.1,1334.7 2417.4,1334.1" stroke="#b2b2b2" stroke-width="1.8" opacity="0.33"/>
<polyline points="2404.1,1319.2 2415.5,1318.6" stroke="#b1b1b1" stroke-width="1.6" opacity="0.30"/>
<polyline points="2444.1,1315.4 2457.4,1315.1" stroke="#b1b1b1" stroke-width="1.6" opacity="0.30"/>
<polyline points="2352.7,1304.3 2373.7,1304.3" stroke="#b1b1b1" stroke-width="1.6" opacity="0.30"/>
<polyline points="2398.4,1304.3 2415.5,1301.5" stroke="#b2b2b2" stroke-width="1.6" opacity="0.33"/>
<polyline points="2440.3,1296.4 2459.3,1296.4" stroke="#b1b1b1" stroke-width="1.6" opacity="0.30"/>
<polyline points="2369.9,1285.1 2379.4,1287.3 2390.8,1288.5 2404.1,1286.6 2419.4,1282.5 2434.6,1279.7 2451.7,1278.7 2463.1,1277.5" stroke="#b8b8b8" stroke-width="1.8" opacity="0.40"/>
<polyline points="2440.3,1261.7 2466.9,1261.7" stroke="#a7a7a7" stroke-width="1.5" opacity="0.25"/>
<polyline points="2736.9,1451.3 2887.3,1451.0" stroke="#ededed" stroke-width="1.7249999999999999" opacity="0.95"/>
<polyline points="2736.9,1451.3 2887.3,1451.0" stroke="#adadad" stroke-width="5.75" opacity="0.35"/>
<polyline points="2736.9,1435.5 2786.4,1435.2 2824.5,1433.6 2862.5,1432.1 2887.3,1431.1" stroke="#fafafa" stroke-width="2.3" opacity="0.97"/>
<polyline points="2736.9,1435.5 2786.4,1435.2 2824.5,1433.6 2862.5,1432.1 2887.3,1431.1" stroke="#b5b5b5" stroke-width="7.475" opacity="0.40"/>
<polyline points="2736.9,1418.5 2786.4,1417.8 2834.0,1415.8 2887.3,1412.6" stroke="#dbdbdb" stroke-width="1.8399999999999999" opacity="0.85"/>
<polyline points="2736.9,1418.5 2786.4,1417.8 2834.0,1415.8 2887.3,1412.6" stroke="#adadad" stroke-width="6.324999999999999" opacity="0.35"/>
<polyline points="2763.5,1402.3 2795.9,1401.4 2818.7,1400.0 2841.6,1398.9" stroke="#bdbdbd" stroke-width="1.8" opacity="0.40"/>
<polyline points="2790.2,1401.6 2830.2,1399.5" stroke="#cfcfcf" stroke-width="2.2" opacity="0.35"/>
<polyline points="2757.8,1370.4 2788.3,1369.2 2826.4,1367.1 2843.5,1365.2" stroke="#afafaf" stroke-width="1.6" opacity="0.30"/>
<polyline points="2788.3,1369.2 2826.4,1367.1" stroke="#d4d4d4" stroke-width="2.2" opacity="0.40"/>
<polyline points="2742.6,1354.1 2786.4,1353.3 2826.4,1351.0" stroke="#acacac" stroke-width="1.5" opacity="0.28"/>
<polyline points="2790.2,1334.7 2803.5,1334.1" stroke="#b2b2b2" stroke-width="1.8" opacity="0.33"/>
<polyline points="2790.2,1319.2 2801.6,1318.6" stroke="#b1b1b1" stroke-width="1.6" opacity="0.30"/>
<polyline points="2830.2,1315.4 2843.5,1315.1" stroke="#b1b1b1" stroke-width="1.6" opacity="0.30"/>
<polyline points="2738.8,1304.3 2759.7,1304.3" stroke="#b1b1b1" stroke-width="1.6" opacity="0.30"/>
<polyline points="2784.5,1304.3 2801.6,1301.5" stroke="#b2b2b2" stroke-width="1.6" opacity="0.33"/>
<polyline points="2826.4,1296.4 2845.4,1296.4" stroke="#b1b1b1" stroke-width="1.6" opacity="0.30"/>
<polyline points="2755.9,1285.1 2765.4,1287.3 2776.9,1288.5 2790.2,1286.6 2805.4,1282.5 2820.6,1279.7 2837.8,1278.7 2849.2,1277.5" stroke="#b8b8b8" stroke-width="1.8" opacity="0.40"/>
<polyline points="2826.4,1261.7 2853.0,1261.7" stroke="#a7a7a7" stroke-width="1.5" opacity="0.25"/>
<polyline points="2609.7,1434.9 2676.3,1434.9" stroke="#cccccc" stroke-width="2.2" opacity="0.70"/>
<polyline points="2314.6,1427.6 2371.8,1426.8" stroke="#a8a8a8" stroke-width="5" opacity="0.50"/>
<polyline points="2704.9,1427.6 2752.5,1426.8" stroke="#a8a8a8" stroke-width="5" opacity="0.50"/>
</g>
</g></g>
<rect x="2314.65" y="1214.25" width="571.10" height="252.90" fill="none" stroke="#231f20" stroke-width="2.9"/>
<path d="M2409.8 1468.6V1453.6M2505.0 1468.6V1453.6M2600.2 1468.6V1453.6M2695.4 1468.6V1453.6M2790.6 1468.6V1453.6M2313.2 1388.1H2328.2M2313.2 1309.1H2328.2M2313.2 1230.1H2328.2" stroke="#231f20" stroke-width="2.8" fill="none"/>
<text x="2298.5" y="1480.8" font-size="54" text-anchor="end">0</text>
<text x="2298.5" y="1401.7" font-size="54" text-anchor="end">5</text>
<text x="2298.5" y="1322.7" font-size="54" text-anchor="end">10</text>
<text x="2298.5" y="1243.7" font-size="54" text-anchor="end">15</text>
<text x="2315.4" y="1524.9" font-size="54" text-anchor="middle">0</text>
<text x="2410.6" y="1524.9" font-size="54" text-anchor="middle">0.5</text>
<text x="2505.8" y="1524.9" font-size="54" text-anchor="middle">1.0</text>
<text x="2601.0" y="1524.9" font-size="54" text-anchor="middle">1.5</text>
<text x="2696.2" y="1524.9" font-size="54" text-anchor="middle">2.0</text>
<text x="2791.4" y="1524.9" font-size="54" text-anchor="middle">2.5</text>
<text x="2886.5" y="1524.9" font-size="54" text-anchor="middle">3.0</text>
<text x="2315.1" y="1195.8" font-size="54" letter-spacing="0.3">×10<tspan font-size="33" dy="-17.7">3</tspan></text>
<text transform="translate(2218.8 1340.2) rotate(-90)" font-size="56" text-anchor="middle">频率/kHz</text>
<text x="2600.5" y="1586.6" font-size="56" text-anchor="middle">时间/s</text>
<text x="2598.5" y="1656.4" font-size="55.5" text-anchor="middle">(i) TFIIF-Net分离虎鲸音频</text>
<rect x="2898.6" y="1213.4" width="13.8" height="253.3" fill="url(#cb)" stroke="#2a2226" stroke-width="0.8"/>
<path d="M2912.4 1233.1h3.2M2912.4 1296.6h3.2M2912.4 1359.7h3.2M2912.4 1421.2h3.2" stroke="#231f20" stroke-width="1" fill="none"/>
<text x="2918.8" y="1247.3" font-size="54">−<tspan dx="-1.6">25</tspan></text>
<text x="2918.8" y="1310.0" font-size="54">−<tspan dx="-1.6">50</tspan></text>
<text x="2918.8" y="1374.5" font-size="54">−<tspan dx="-1.6">75</tspan></text>
<text x="2918.8" y="1436.6" font-size="54">−<tspan dx="-1.6">100</tspan></text>
<text transform="translate(3084.7 1341.7) rotate(-90)" font-size="54" text-anchor="middle">强度/dB</text>
</svg></body></html>
